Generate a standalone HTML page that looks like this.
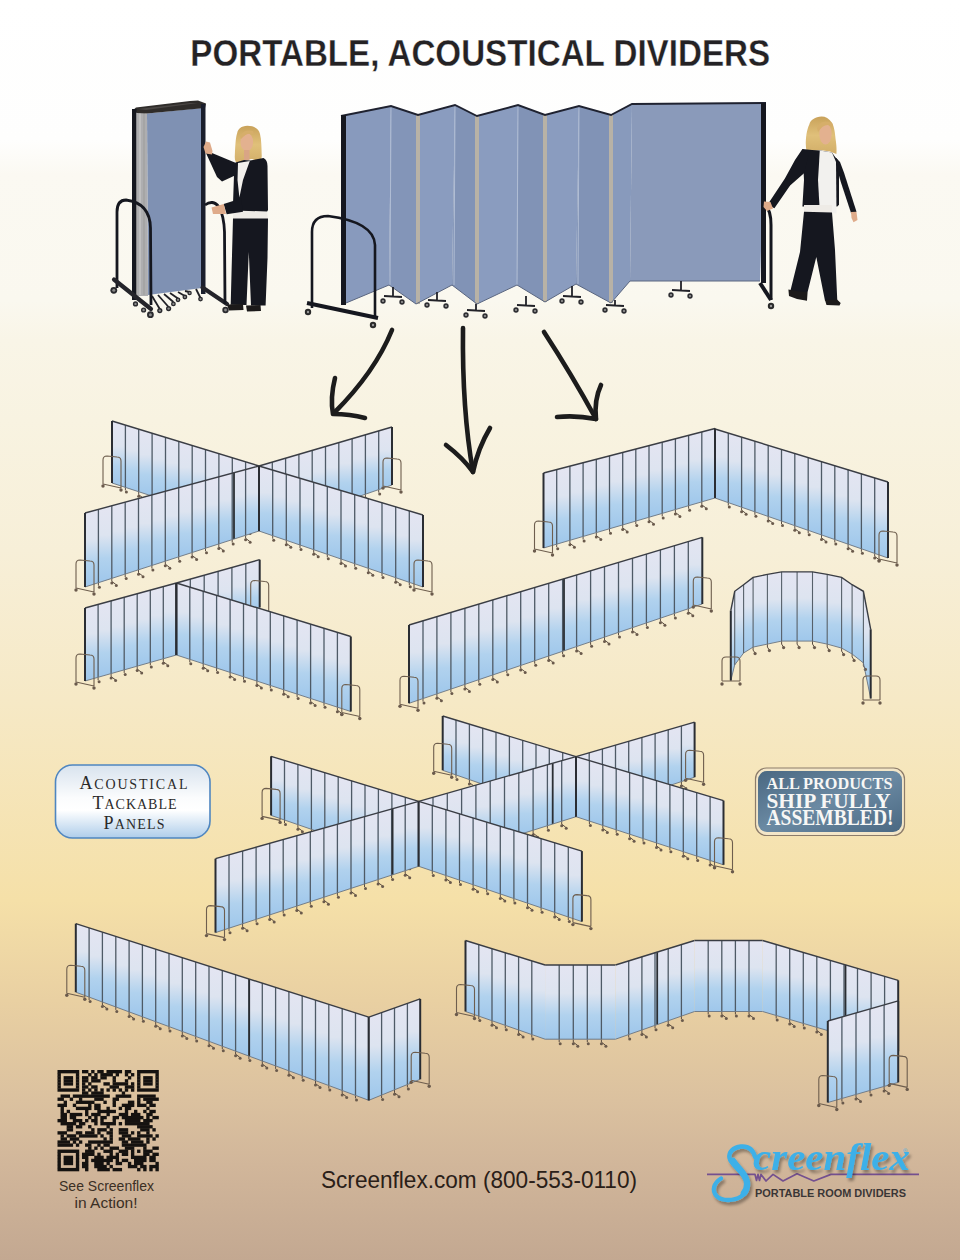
<!DOCTYPE html>
<html><head><meta charset="utf-8"><style>
html,body{margin:0;padding:0;}
html{width:960px;height:1260px;overflow:hidden;}
body{width:960px;height:1260px;overflow:hidden;position:relative;
background:linear-gradient(to bottom,#ffffff 0px,#fefefd 140px,#fbf9f2 175px,#faf8ef 300px,#f9f5e7 340px,#f8f3e1 420px,#f7efd8 550px,#f6e9c6 700px,#f5e0a8 900px,#e9d0a2 1000px,#dbc19f 1100px,#d1b69a 1165px,#c3a891 1260px);
font-family:"Liberation Sans",sans-serif;}
.t{position:absolute;white-space:nowrap;}
.c{font-size:18px;}
svg{position:absolute;left:0;top:0;}
</style></head><body>
<svg width="960" height="1260" viewBox="0 0 960 1260">
<defs>
<linearGradient id="pg" x1="0" y1="0" x2="0" y2="1">
  <stop offset="0" stop-color="#e4e5f2"/>
  <stop offset="0.38" stop-color="#dde4f0"/>
  <stop offset="0.68" stop-color="#b1d2ee"/>
  <stop offset="1" stop-color="#9fc7eb"/>
</linearGradient>
<linearGradient id="badge1" x1="0" y1="0" x2="0" y2="1">
  <stop offset="0" stop-color="#d8e3ee"/>
  <stop offset="0.45" stop-color="#fbfcfd"/>
  <stop offset="0.62" stop-color="#ffffff"/>
  <stop offset="1" stop-color="#aecdea"/>
</linearGradient>
<linearGradient id="badge2" x1="0" y1="0" x2="1" y2="1">
  <stop offset="0" stop-color="#4a6882"/>
  <stop offset="0.5" stop-color="#6b8aa3"/>
  <stop offset="1" stop-color="#4a6882"/>
</linearGradient>

<linearGradient id="blueL" x1="0" y1="0" x2="1" y2="0">
  <stop offset="0" stop-color="#8197c0"/><stop offset="1" stop-color="#7a90ba"/>
</linearGradient>
<linearGradient id="blueR" x1="0" y1="0" x2="1" y2="0">
  <stop offset="0" stop-color="#788db5"/><stop offset="1" stop-color="#8297bf"/>
</linearGradient>
<linearGradient id="hair" x1="0" y1="0" x2="0" y2="1">
  <stop offset="0" stop-color="#c9a25a"/><stop offset="0.5" stop-color="#e0c07a"/><stop offset="1" stop-color="#d2ae68"/>
</linearGradient>
</defs>
<polygon points="147,113.5 202,108 202,288 148,295" fill="#7f91b3"/>
<polygon points="137,112.5 147,113.5 148,296 137,296" fill="#aeaeb0"/>
<line x1="140" y1="113" x2="140" y2="295" stroke="#cfcfcd" stroke-width="1"/>
<line x1="144" y1="113" x2="144" y2="295" stroke="#9c9c9a" stroke-width="1"/>
<polygon points="132,111 136,107.5 190,101 198,100.5 206,103.5 205,108 147,113.5 137,113" fill="#2f2c2a"/>
<polygon points="138,109 190,103 198,103 146,110" fill="#4a4644"/>
<rect x="132" y="109" width="4.5" height="191" fill="#15171f"/>
<rect x="201" y="104" width="4.5" height="190" fill="#1a1e2c"/>
<path d="M117,288 L117,212 Q117,200 126,200 Q150,203 150.5,228 L151,305" stroke="#15171f" stroke-width="2.8" fill="none"/>
<path d="M114,279.5 L151,309" stroke="#24242a" stroke-width="4.2" fill="none" stroke-linecap="round"/>
<path d="M202.5,287.6 L227,304" stroke="#24242a" stroke-width="4.2" fill="none" stroke-linecap="round"/>
<path d="M205,205 Q213,199 219,207 Q224,216 224.5,232 L225,304" stroke="#15171f" stroke-width="2.8" fill="none"/>
<path d="M152,296 L159.8,309" stroke="#202026" stroke-width="1.8"/>
<path d="M158,295 L168.6,307" stroke="#202026" stroke-width="1.8"/>
<path d="M164,294 L173.4,302" stroke="#202026" stroke-width="1.8"/>
<path d="M170,293 L178,298.5" stroke="#202026" stroke-width="1.8"/>
<path d="M178,292 L184.9,296" stroke="#202026" stroke-width="1.8"/>
<path d="M185,291 L189.6,292" stroke="#202026" stroke-width="1.8"/>
<path d="M196,289 L200.5,298" stroke="#202026" stroke-width="1.8"/>
<circle cx="113.8" cy="290.3" r="3.4" fill="#2a2a2e"/><circle cx="113.8" cy="290.3" r="1.5" fill="#8a8a8a"/>
<circle cx="135.5" cy="303.9" r="2.6" fill="#2a2a2e"/><circle cx="135.5" cy="303.9" r="1.2" fill="#8a8a8a"/>
<circle cx="143.6" cy="310" r="2.6" fill="#2a2a2e"/><circle cx="143.6" cy="310" r="1.2" fill="#8a8a8a"/>
<circle cx="150.4" cy="314.7" r="3.4" fill="#2a2a2e"/><circle cx="150.4" cy="314.7" r="1.5" fill="#8a8a8a"/>
<circle cx="159.8" cy="310.6" r="2.6" fill="#2a2a2e"/><circle cx="159.8" cy="310.6" r="1.2" fill="#8a8a8a"/>
<circle cx="168.6" cy="308.6" r="2.6" fill="#2a2a2e"/><circle cx="168.6" cy="308.6" r="1.2" fill="#8a8a8a"/>
<circle cx="173.4" cy="303.9" r="2.4" fill="#2a2a2e"/><circle cx="173.4" cy="303.9" r="1.1" fill="#8a8a8a"/>
<circle cx="178" cy="299.8" r="2.4" fill="#2a2a2e"/><circle cx="178" cy="299.8" r="1.1" fill="#8a8a8a"/>
<circle cx="184.9" cy="297" r="2.4" fill="#2a2a2e"/><circle cx="184.9" cy="297" r="1.1" fill="#8a8a8a"/>
<circle cx="189.6" cy="293" r="2.2" fill="#2a2a2e"/><circle cx="189.6" cy="293" r="1.0" fill="#8a8a8a"/>
<circle cx="200.5" cy="299.1" r="2.4" fill="#2a2a2e"/><circle cx="200.5" cy="299.1" r="1.1" fill="#8a8a8a"/>
<circle cx="225.5" cy="310" r="3.2" fill="#2a2a2e"/><circle cx="225.5" cy="310" r="1.4" fill="#8a8a8a"/>
<path d="M247.4,125.8 C241,126 238,129 237.2,133 C235.5,138 235.3,146 234.8,156 C234.6,160 235.5,163 238,163.5 L244,160 L252,159 L258.5,161.5 C261,160 262,158 261.7,155 C261.5,148 261.5,140 260,134 C259,129 254,125.8 247.4,125.8 Z" fill="url(#hair)"/>
<ellipse cx="246.8" cy="142" rx="6.3" ry="9.3" fill="#e3b18f"/>
<path d="M240,136 Q244,129 253,131 L254,135 Q248,131 241,139 Z" fill="#d6ae6a"/>
<path d="M244,150 L249.5,150 L249.5,160 L244,160 Z" fill="#d9a585"/>
<path d="M235.5,162.5 L244,160 L250,160.5 L258,159 L263.5,158 Q267.5,160 267.5,166 L268,210 L266.4,212.8 L234.7,211 L233,204 L234,175 Z" fill="#15171f"/>
<path d="M238,163 L249.8,161 L243,180 L239.4,197.5 L237.5,180 Z" fill="#f2f0ec"/>
<path d="M233.5,210.5 L267,211.5 L268,219 L233,219.5 Z" fill="#eeebe6"/>
<path d="M205.5,152 L212,153 L236,163 L236,175 L222,181.5 L217,177 Z" fill="#15171f"/>
<path d="M203.5,147 L206,141.5 L210,142.5 L212.5,151 L212,154.5 L205.5,153.5 Z" fill="#dfab8a"/>
<path d="M223.6,203.9 L241,198.5 L243,211.8 L226.7,214.2 Z" fill="#15171f"/>
<path d="M211.5,207.5 L223.8,204 L226,214 L213,214 Z" fill="#dfab8a"/>
<path d="M233,218.5 L268,218.5 L267.5,258 L265.6,305.5 L251,305.5 L248.8,252 L246.5,305 L230.7,304.7 L231.5,273.7 Z" fill="#15171f"/>
<path d="M227,304.5 L243,304 L243.5,310 L229,310.5 Z M246,305.5 L260.5,305 L261,311 L247,311.5 Z" fill="#1c1a1a"/>
<polygon points="341,116 391,106 389,285 346,303" fill="#889abd"/>
<polygon points="391,106 418,115 416,304 389,285" fill="#8395b8"/>
<polygon points="418,115 455,105 452,285 416,304" fill="#8a9cbf"/>
<polygon points="455,105 477,116 477,304 452,285" fill="#8193b6"/>
<polygon points="477,116 518,105 517,285 477,304" fill="#8a9cbf"/>
<polygon points="518,105 545,115 545,302 517,285" fill="#8193b6"/>
<polygon points="545,115 579,106 576,284 545,302" fill="#8a9cbf"/>
<polygon points="579,106 611,115 611,303 576,284" fill="#8193b6"/>
<polygon points="611,115 632,104 630,281 611,303" fill="#889abc"/>
<polygon points="632,104 766,103 760,281 630,281" fill="#8a9aba"/>
<rect x="416" y="115" width="4" height="189" fill="#b8b2a6"/>
<rect x="475" y="116" width="4" height="188" fill="#b8b2a6"/>
<rect x="543" y="115" width="4" height="187" fill="#b8b2a6"/>
<rect x="609" y="115" width="4" height="188" fill="#b8b2a6"/>
<line x1="391" y1="106" x2="390" y2="285" stroke="#b0bdd4" stroke-width="1"/>
<line x1="455" y1="105" x2="454" y2="285" stroke="#b0bdd4" stroke-width="1"/>
<line x1="518" y1="105" x2="517" y2="285" stroke="#b0bdd4" stroke-width="1"/>
<line x1="579" y1="106" x2="578" y2="284" stroke="#b0bdd4" stroke-width="1"/>
<polyline points="341,116 391,106 418,115 455,105 477,116 518,105 545,115 579,106 611,115 632,104 766,103" fill="none" stroke="#1f2230" stroke-width="1.9"/>
<polyline points="346,303 389,285 416,304 452,285 477,304 517,285 545,302 576,284 611,303 630,281 760,281" fill="none" stroke="#5a6680" stroke-width="1"/>
<rect x="341" y="115" width="5" height="190" fill="#15171f"/>
<rect x="761" y="103" width="5" height="180" fill="#15171f"/>
<path d="M312,308 L312,232 Q312,216 328,216 Q374,222 375,245 L375,318" stroke="#15171f" stroke-width="2.6" fill="none"/>
<path d="M307,303 L378,318" stroke="#15171f" stroke-width="4"/>
<circle cx="308" cy="312" r="3.2" fill="#2a2a2a"/><circle cx="308" cy="312" r="1.2" fill="#999"/>
<circle cx="373" cy="325" r="3.2" fill="#2a2a2a"/><circle cx="373" cy="325" r="1.2" fill="#999"/>
<path d="M765,205 Q771,210 771,225 L771,300" stroke="#15171f" stroke-width="3" fill="none"/>
<path d="M760,283 L771,300" stroke="#15171f" stroke-width="4"/>
<circle cx="771" cy="306" r="3.2" fill="#2a2a2a"/><circle cx="771" cy="306" r="1.2" fill="#999"/>
<path d="M393,287 L393,296 M384,296 L402,297" stroke="#222228" stroke-width="1.8"/>
<circle cx="383" cy="301" r="2.7" fill="#2e2e32"/><circle cx="383" cy="301" r="1.1" fill="#999"/>
<circle cx="402" cy="302" r="2.7" fill="#2e2e32"/><circle cx="402" cy="302" r="1.1" fill="#999"/>
<path d="M437,292 L437,300 M428,300 L446,301" stroke="#222228" stroke-width="1.8"/>
<circle cx="427" cy="305" r="2.7" fill="#2e2e32"/><circle cx="427" cy="305" r="1.1" fill="#999"/>
<circle cx="446" cy="306" r="2.7" fill="#2e2e32"/><circle cx="446" cy="306" r="1.1" fill="#999"/>
<path d="M476,304 L476,310 M467,310 L485,311" stroke="#222228" stroke-width="1.8"/>
<circle cx="466" cy="315" r="2.7" fill="#2e2e32"/><circle cx="466" cy="315" r="1.1" fill="#999"/>
<circle cx="485" cy="316" r="2.7" fill="#2e2e32"/><circle cx="485" cy="316" r="1.1" fill="#999"/>
<path d="M526,296 L526,305 M517,305 L535,306" stroke="#222228" stroke-width="1.8"/>
<circle cx="516" cy="310" r="2.7" fill="#2e2e32"/><circle cx="516" cy="310" r="1.1" fill="#999"/>
<circle cx="535" cy="311" r="2.7" fill="#2e2e32"/><circle cx="535" cy="311" r="1.1" fill="#999"/>
<path d="M572,286 L572,296 M563,296 L581,297" stroke="#222228" stroke-width="1.8"/>
<circle cx="562" cy="301" r="2.7" fill="#2e2e32"/><circle cx="562" cy="301" r="1.1" fill="#999"/>
<circle cx="581" cy="302" r="2.7" fill="#2e2e32"/><circle cx="581" cy="302" r="1.1" fill="#999"/>
<path d="M615,300 L615,305 M606,305 L624,306" stroke="#222228" stroke-width="1.8"/>
<circle cx="605" cy="310" r="2.7" fill="#2e2e32"/><circle cx="605" cy="310" r="1.1" fill="#999"/>
<circle cx="624" cy="311" r="2.7" fill="#2e2e32"/><circle cx="624" cy="311" r="1.1" fill="#999"/>
<path d="M681,281 L681,290 M672,290 L690,291" stroke="#222228" stroke-width="1.8"/>
<circle cx="671" cy="295" r="2.7" fill="#2e2e32"/><circle cx="671" cy="295" r="1.1" fill="#999"/>
<circle cx="690" cy="296" r="2.7" fill="#2e2e32"/><circle cx="690" cy="296" r="1.1" fill="#999"/>
<path d="M821.6,116.6 C815,117 810.5,120 809.3,124.4 C806.5,130 805.8,138.4 805.8,144 C806,149 806.5,152 807.6,153.5 L812,151 L820,150 L830,151.5 L836.4,154.1 C837,148 836,142 835.5,138.4 C835,131 833.5,125 832,122.7 C829,118.5 825.5,116.6 821.6,116.6 Z" fill="url(#hair)"/>
<ellipse cx="825.5" cy="134" rx="6.2" ry="10.5" fill="#e3b18f"/>
<path d="M817,128 Q821,118.5 832,123 L833,127 Q825,121 818,132 Z" fill="#d6ae6a"/>
<path d="M802.4,149 L812,150 L820,150.6 L832,152.4 L835.5,157.6 Q839,160 839,165 L839,204.7 L837.3,206.5 L802.4,206.5 L804,180 Z" fill="#15171f"/>
<path d="M802.4,149 L809,154 L804,173.3 L790.1,185.5 L774.4,208.2 L767.5,204.7 L784.9,178.5 L795,160 Z" fill="#15171f"/>
<path d="M764,201.5 L770.5,202 L773,208.5 L767,211 L763.5,207 Z" fill="#dfab8a"/>
<path d="M835.5,157.6 L840,162 L844.2,173.3 L856.5,211.7 L851.2,213.4 L840.8,182 L837.3,169.8 Z" fill="#15171f"/>
<path d="M851,212 L856.5,211.7 L857.5,220 L853.5,222.2 L851.5,218 Z" fill="#dfab8a"/>
<path d="M819.8,150.6 L832,152.4 L836,162 L836.5,213.4 L819.8,212 L818,180 Z" fill="#f2f1ee"/>
<path d="M804,205 L832,205 L832,213.4 L804,212 Z" fill="#eeebe6"/>
<path d="M804,211.7 L832,212.5 L835,250 L837.3,300.7 L825,300.7 L816.3,257 L807.6,292 L790.1,292 L800,252 Z" fill="#15171f"/>
<path d="M788.4,289.5 L799,291.5 L807.6,292 L807,300.7 L797,299 L789,296 Z M825,300 L837,299.5 L840.7,303 L839.5,305.5 L826.5,305 Z" fill="#1c1a1a"/>
<path d="M125.4,487.4 l0,3" stroke="#5a4c40" stroke-width="1" fill="none"/>
<circle cx="126.4" cy="491.9" r="1.5" fill="#6a5a4c"/>
<path d="M138.7,491.7 l0,3 l4,3" stroke="#5a4c40" stroke-width="1" fill="none"/>
<circle cx="138.7" cy="496.2" r="1.5" fill="#6a5a4c"/>
<circle cx="143.2" cy="498.7" r="1.5" fill="#6a5a4c"/>
<path d="M152.1,496.1 l0,3" stroke="#5a4c40" stroke-width="1" fill="none"/>
<circle cx="153.1" cy="500.6" r="1.5" fill="#6a5a4c"/>
<path d="M165.5,500.5 l0,3 l4,3" stroke="#5a4c40" stroke-width="1" fill="none"/>
<circle cx="165.5" cy="505.0" r="1.5" fill="#6a5a4c"/>
<circle cx="170.0" cy="507.5" r="1.5" fill="#6a5a4c"/>
<path d="M178.8,504.8 l0,3" stroke="#5a4c40" stroke-width="1" fill="none"/>
<circle cx="179.8" cy="509.3" r="1.5" fill="#6a5a4c"/>
<path d="M192.2,509.2 l0,3 l4,3" stroke="#5a4c40" stroke-width="1" fill="none"/>
<circle cx="192.2" cy="513.7" r="1.5" fill="#6a5a4c"/>
<circle cx="196.7" cy="516.2" r="1.5" fill="#6a5a4c"/>
<path d="M205.5,513.5 l0,3" stroke="#5a4c40" stroke-width="1" fill="none"/>
<circle cx="206.5" cy="518.0" r="1.5" fill="#6a5a4c"/>
<path d="M218.9,517.9 l0,3 l4,3" stroke="#5a4c40" stroke-width="1" fill="none"/>
<circle cx="218.9" cy="522.4" r="1.5" fill="#6a5a4c"/>
<circle cx="223.4" cy="524.9" r="1.5" fill="#6a5a4c"/>
<path d="M232.3,522.3 l0,3" stroke="#5a4c40" stroke-width="1" fill="none"/>
<circle cx="233.3" cy="526.8" r="1.5" fill="#6a5a4c"/>
<path d="M245.6,526.6 l0,3 l4,3" stroke="#5a4c40" stroke-width="1" fill="none"/>
<circle cx="245.6" cy="531.1" r="1.5" fill="#6a5a4c"/>
<circle cx="250.1" cy="533.6" r="1.5" fill="#6a5a4c"/>
<polygon points="112.0,421.0 125.4,425.1 125.4,487.4 112.0,483.0" fill="url(#pg)"/>
<polygon points="125.4,425.1 138.7,429.2 138.7,491.7 125.4,487.4" fill="url(#pg)"/>
<polygon points="138.7,429.2 152.1,433.3 152.1,496.1 138.7,491.7" fill="url(#pg)"/>
<polygon points="152.1,433.3 165.5,437.4 165.5,500.5 152.1,496.1" fill="url(#pg)"/>
<polygon points="165.5,437.4 178.8,441.5 178.8,504.8 165.5,500.5" fill="url(#pg)"/>
<polygon points="178.8,441.5 192.2,445.5 192.2,509.2 178.8,504.8" fill="url(#pg)"/>
<polygon points="192.2,445.5 205.5,449.6 205.5,513.5 192.2,509.2" fill="url(#pg)"/>
<polygon points="205.5,449.6 218.9,453.7 218.9,517.9 205.5,513.5" fill="url(#pg)"/>
<polygon points="218.9,453.7 232.3,457.8 232.3,522.3 218.9,517.9" fill="url(#pg)"/>
<polygon points="232.3,457.8 245.6,461.9 245.6,526.6 232.3,522.3" fill="url(#pg)"/>
<polygon points="245.6,461.9 259.0,466.0 259.0,531.0 245.6,526.6" fill="url(#pg)"/>
<line x1="125.4" y1="425.1" x2="125.4" y2="487.4" stroke="#4e5a66" stroke-width="1.3"/>
<line x1="138.7" y1="429.2" x2="138.7" y2="491.7" stroke="#4e5a66" stroke-width="1.3"/>
<line x1="152.1" y1="433.3" x2="152.1" y2="496.1" stroke="#4e5a66" stroke-width="1.3"/>
<line x1="165.5" y1="437.4" x2="165.5" y2="500.5" stroke="#4e5a66" stroke-width="1.3"/>
<line x1="178.8" y1="441.5" x2="178.8" y2="504.8" stroke="#4e5a66" stroke-width="1.3"/>
<line x1="192.2" y1="445.5" x2="192.2" y2="509.2" stroke="#4e5a66" stroke-width="1.3"/>
<line x1="205.5" y1="449.6" x2="205.5" y2="513.5" stroke="#4e5a66" stroke-width="1.3"/>
<line x1="218.9" y1="453.7" x2="218.9" y2="517.9" stroke="#4e5a66" stroke-width="1.3"/>
<line x1="232.3" y1="457.8" x2="232.3" y2="522.3" stroke="#4e5a66" stroke-width="1.3"/>
<line x1="245.6" y1="461.9" x2="245.6" y2="526.6" stroke="#4e5a66" stroke-width="1.3"/>
<line x1="112.0" y1="421.0" x2="259.0" y2="466.0" stroke="#3a3d44" stroke-width="1.4"/>
<line x1="112.0" y1="483.0" x2="259.0" y2="531.0" stroke="#6a7480" stroke-width="0.9"/>
<line x1="112.0" y1="421.0" x2="112.0" y2="483.0" stroke="#2a2d33" stroke-width="2"/>
<line x1="259.0" y1="466.0" x2="259.0" y2="531.0" stroke="#2a2d33" stroke-width="2"/>
<path d="M103.0,484.0 L103.0,460.0 Q103.0,456.0 107.0,456.0 L117.0,457.0 Q121.0,457.0 121.0,461.0 L121.0,488.0 M103.0,484.0 L121.0,488.0" stroke="#6e5e4e" stroke-width="1.1" fill="none"/>
<circle cx="103.0" cy="486.0" r="1.7" fill="#6a5a4c"/>
<circle cx="121.0" cy="490.0" r="1.7" fill="#6a5a4c"/>
<path d="M272.3,526.4 l0,3" stroke="#5a4c40" stroke-width="1" fill="none"/>
<circle cx="273.3" cy="530.9" r="1.5" fill="#6a5a4c"/>
<path d="M285.6,521.8 l0,3 l4,3" stroke="#5a4c40" stroke-width="1" fill="none"/>
<circle cx="285.6" cy="526.3" r="1.5" fill="#6a5a4c"/>
<circle cx="290.1" cy="528.8" r="1.5" fill="#6a5a4c"/>
<path d="M298.9,517.2 l0,3" stroke="#5a4c40" stroke-width="1" fill="none"/>
<circle cx="299.9" cy="521.7" r="1.5" fill="#6a5a4c"/>
<path d="M312.2,512.6 l0,3 l4,3" stroke="#5a4c40" stroke-width="1" fill="none"/>
<circle cx="312.2" cy="517.1" r="1.5" fill="#6a5a4c"/>
<circle cx="316.7" cy="519.6" r="1.5" fill="#6a5a4c"/>
<path d="M325.5,508.0 l0,3" stroke="#5a4c40" stroke-width="1" fill="none"/>
<circle cx="326.5" cy="512.5" r="1.5" fill="#6a5a4c"/>
<path d="M338.8,503.4 l0,3 l4,3" stroke="#5a4c40" stroke-width="1" fill="none"/>
<circle cx="338.8" cy="507.9" r="1.5" fill="#6a5a4c"/>
<circle cx="343.3" cy="510.4" r="1.5" fill="#6a5a4c"/>
<path d="M352.1,498.8 l0,3" stroke="#5a4c40" stroke-width="1" fill="none"/>
<circle cx="353.1" cy="503.3" r="1.5" fill="#6a5a4c"/>
<path d="M365.4,494.2 l0,3 l4,3" stroke="#5a4c40" stroke-width="1" fill="none"/>
<circle cx="365.4" cy="498.7" r="1.5" fill="#6a5a4c"/>
<circle cx="369.9" cy="501.2" r="1.5" fill="#6a5a4c"/>
<path d="M378.7,489.6 l0,3" stroke="#5a4c40" stroke-width="1" fill="none"/>
<circle cx="379.7" cy="494.1" r="1.5" fill="#6a5a4c"/>
<polygon points="259.0,466.0 272.3,462.1 272.3,526.4 259.0,531.0" fill="url(#pg)"/>
<polygon points="272.3,462.1 285.6,458.2 285.6,521.8 272.3,526.4" fill="url(#pg)"/>
<polygon points="285.6,458.2 298.9,454.3 298.9,517.2 285.6,521.8" fill="url(#pg)"/>
<polygon points="298.9,454.3 312.2,450.4 312.2,512.6 298.9,517.2" fill="url(#pg)"/>
<polygon points="312.2,450.4 325.5,446.5 325.5,508.0 312.2,512.6" fill="url(#pg)"/>
<polygon points="325.5,446.5 338.8,442.6 338.8,503.4 325.5,508.0" fill="url(#pg)"/>
<polygon points="338.8,442.6 352.1,438.7 352.1,498.8 338.8,503.4" fill="url(#pg)"/>
<polygon points="352.1,438.7 365.4,434.8 365.4,494.2 352.1,498.8" fill="url(#pg)"/>
<polygon points="365.4,434.8 378.7,430.9 378.7,489.6 365.4,494.2" fill="url(#pg)"/>
<polygon points="378.7,430.9 392.0,427.0 392.0,485.0 378.7,489.6" fill="url(#pg)"/>
<line x1="272.3" y1="462.1" x2="272.3" y2="526.4" stroke="#4e5a66" stroke-width="1.3"/>
<line x1="285.6" y1="458.2" x2="285.6" y2="521.8" stroke="#4e5a66" stroke-width="1.3"/>
<line x1="298.9" y1="454.3" x2="298.9" y2="517.2" stroke="#4e5a66" stroke-width="1.3"/>
<line x1="312.2" y1="450.4" x2="312.2" y2="512.6" stroke="#4e5a66" stroke-width="1.3"/>
<line x1="325.5" y1="446.5" x2="325.5" y2="508.0" stroke="#4e5a66" stroke-width="1.3"/>
<line x1="338.8" y1="442.6" x2="338.8" y2="503.4" stroke="#4e5a66" stroke-width="1.3"/>
<line x1="352.1" y1="438.7" x2="352.1" y2="498.8" stroke="#4e5a66" stroke-width="1.3"/>
<line x1="365.4" y1="434.8" x2="365.4" y2="494.2" stroke="#4e5a66" stroke-width="1.3"/>
<line x1="378.7" y1="430.9" x2="378.7" y2="489.6" stroke="#4e5a66" stroke-width="1.3"/>
<line x1="259.0" y1="466.0" x2="392.0" y2="427.0" stroke="#3a3d44" stroke-width="1.4"/>
<line x1="259.0" y1="531.0" x2="392.0" y2="485.0" stroke="#6a7480" stroke-width="0.9"/>
<line x1="259.0" y1="466.0" x2="259.0" y2="531.0" stroke="#2a2d33" stroke-width="2"/>
<line x1="392.0" y1="427.0" x2="392.0" y2="485.0" stroke="#2a2d33" stroke-width="2"/>
<path d="M383.0,486.0 L383.0,462.0 Q383.0,458.0 387.0,458.0 L397.0,459.0 Q401.0,459.0 401.0,463.0 L401.0,490.0 M383.0,486.0 L401.0,490.0" stroke="#6e5e4e" stroke-width="1.1" fill="none"/>
<circle cx="383.0" cy="488.0" r="1.7" fill="#6a5a4c"/>
<circle cx="401.0" cy="492.0" r="1.7" fill="#6a5a4c"/>
<path d="M98.4,582.7 l0,3" stroke="#5a4c40" stroke-width="1" fill="none"/>
<circle cx="99.4" cy="587.2" r="1.5" fill="#6a5a4c"/>
<path d="M111.8,578.4 l0,3 l4,3" stroke="#5a4c40" stroke-width="1" fill="none"/>
<circle cx="111.8" cy="582.9" r="1.5" fill="#6a5a4c"/>
<circle cx="116.3" cy="585.4" r="1.5" fill="#6a5a4c"/>
<path d="M125.2,574.1 l0,3" stroke="#5a4c40" stroke-width="1" fill="none"/>
<circle cx="126.2" cy="578.6" r="1.5" fill="#6a5a4c"/>
<path d="M138.5,569.8 l0,3 l4,3" stroke="#5a4c40" stroke-width="1" fill="none"/>
<circle cx="138.5" cy="574.3" r="1.5" fill="#6a5a4c"/>
<circle cx="143.0" cy="576.8" r="1.5" fill="#6a5a4c"/>
<path d="M151.9,565.5 l0,3" stroke="#5a4c40" stroke-width="1" fill="none"/>
<circle cx="152.9" cy="570.0" r="1.5" fill="#6a5a4c"/>
<path d="M165.3,561.2 l0,3 l4,3" stroke="#5a4c40" stroke-width="1" fill="none"/>
<circle cx="165.3" cy="565.7" r="1.5" fill="#6a5a4c"/>
<circle cx="169.8" cy="568.2" r="1.5" fill="#6a5a4c"/>
<path d="M178.7,556.8 l0,3" stroke="#5a4c40" stroke-width="1" fill="none"/>
<circle cx="179.7" cy="561.3" r="1.5" fill="#6a5a4c"/>
<path d="M192.1,552.5 l0,3 l4,3" stroke="#5a4c40" stroke-width="1" fill="none"/>
<circle cx="192.1" cy="557.0" r="1.5" fill="#6a5a4c"/>
<circle cx="196.6" cy="559.5" r="1.5" fill="#6a5a4c"/>
<path d="M205.5,548.2 l0,3" stroke="#5a4c40" stroke-width="1" fill="none"/>
<circle cx="206.5" cy="552.7" r="1.5" fill="#6a5a4c"/>
<path d="M218.8,543.9 l0,3 l4,3" stroke="#5a4c40" stroke-width="1" fill="none"/>
<circle cx="218.8" cy="548.4" r="1.5" fill="#6a5a4c"/>
<circle cx="223.3" cy="550.9" r="1.5" fill="#6a5a4c"/>
<path d="M232.2,539.6 l0,3" stroke="#5a4c40" stroke-width="1" fill="none"/>
<circle cx="233.2" cy="544.1" r="1.5" fill="#6a5a4c"/>
<path d="M245.6,535.3 l0,3 l4,3" stroke="#5a4c40" stroke-width="1" fill="none"/>
<circle cx="245.6" cy="539.8" r="1.5" fill="#6a5a4c"/>
<circle cx="250.1" cy="542.3" r="1.5" fill="#6a5a4c"/>
<polygon points="85.0,513.0 98.4,509.4 98.4,582.7 85.0,587.0" fill="url(#pg)"/>
<polygon points="98.4,509.4 111.8,505.8 111.8,578.4 98.4,582.7" fill="url(#pg)"/>
<polygon points="111.8,505.8 125.2,502.2 125.2,574.1 111.8,578.4" fill="url(#pg)"/>
<polygon points="125.2,502.2 138.5,498.5 138.5,569.8 125.2,574.1" fill="url(#pg)"/>
<polygon points="138.5,498.5 151.9,494.9 151.9,565.5 138.5,569.8" fill="url(#pg)"/>
<polygon points="151.9,494.9 165.3,491.3 165.3,561.2 151.9,565.5" fill="url(#pg)"/>
<polygon points="165.3,491.3 178.7,487.7 178.7,556.8 165.3,561.2" fill="url(#pg)"/>
<polygon points="178.7,487.7 192.1,484.1 192.1,552.5 178.7,556.8" fill="url(#pg)"/>
<polygon points="192.1,484.1 205.5,480.5 205.5,548.2 192.1,552.5" fill="url(#pg)"/>
<polygon points="205.5,480.5 218.8,476.8 218.8,543.9 205.5,548.2" fill="url(#pg)"/>
<polygon points="218.8,476.8 232.2,473.2 232.2,539.6 218.8,543.9" fill="url(#pg)"/>
<polygon points="232.2,473.2 245.6,469.6 245.6,535.3 232.2,539.6" fill="url(#pg)"/>
<polygon points="245.6,469.6 259.0,466.0 259.0,531.0 245.6,535.3" fill="url(#pg)"/>
<line x1="98.4" y1="509.4" x2="98.4" y2="582.7" stroke="#4e5a66" stroke-width="1.3"/>
<line x1="111.8" y1="505.8" x2="111.8" y2="578.4" stroke="#4e5a66" stroke-width="1.3"/>
<line x1="125.2" y1="502.2" x2="125.2" y2="574.1" stroke="#4e5a66" stroke-width="1.3"/>
<line x1="138.5" y1="498.5" x2="138.5" y2="569.8" stroke="#4e5a66" stroke-width="1.3"/>
<line x1="151.9" y1="494.9" x2="151.9" y2="565.5" stroke="#4e5a66" stroke-width="1.3"/>
<line x1="165.3" y1="491.3" x2="165.3" y2="561.2" stroke="#4e5a66" stroke-width="1.3"/>
<line x1="178.7" y1="487.7" x2="178.7" y2="556.8" stroke="#4e5a66" stroke-width="1.3"/>
<line x1="192.1" y1="484.1" x2="192.1" y2="552.5" stroke="#4e5a66" stroke-width="1.3"/>
<line x1="205.5" y1="480.5" x2="205.5" y2="548.2" stroke="#4e5a66" stroke-width="1.3"/>
<line x1="218.8" y1="476.8" x2="218.8" y2="543.9" stroke="#4e5a66" stroke-width="1.3"/>
<line x1="232.2" y1="473.2" x2="232.2" y2="539.6" stroke="#4e5a66" stroke-width="1.3"/>
<line x1="245.6" y1="469.6" x2="245.6" y2="535.3" stroke="#4e5a66" stroke-width="1.3"/>
<line x1="234.0" y1="472.8" x2="234.0" y2="539.0" stroke="#2a2e33" stroke-width="1.8"/>
<line x1="85.0" y1="513.0" x2="259.0" y2="466.0" stroke="#3a3d44" stroke-width="1.4"/>
<line x1="85.0" y1="587.0" x2="259.0" y2="531.0" stroke="#6a7480" stroke-width="0.9"/>
<line x1="85.0" y1="513.0" x2="85.0" y2="587.0" stroke="#2a2d33" stroke-width="2"/>
<line x1="259.0" y1="466.0" x2="259.0" y2="531.0" stroke="#2a2d33" stroke-width="2"/>
<path d="M76.0,588.0 L76.0,564.0 Q76.0,560.0 80.0,560.0 L90.0,561.0 Q94.0,561.0 94.0,565.0 L94.0,592.0 M76.0,588.0 L94.0,592.0" stroke="#6e5e4e" stroke-width="1.1" fill="none"/>
<circle cx="76.0" cy="590.0" r="1.7" fill="#6a5a4c"/>
<circle cx="94.0" cy="594.0" r="1.7" fill="#6a5a4c"/>
<path d="M272.7,535.7 l0,3" stroke="#5a4c40" stroke-width="1" fill="none"/>
<circle cx="273.7" cy="540.2" r="1.5" fill="#6a5a4c"/>
<path d="M286.3,540.3 l0,3 l4,3" stroke="#5a4c40" stroke-width="1" fill="none"/>
<circle cx="286.3" cy="544.8" r="1.5" fill="#6a5a4c"/>
<circle cx="290.8" cy="547.3" r="1.5" fill="#6a5a4c"/>
<path d="M300.0,545.0 l0,3" stroke="#5a4c40" stroke-width="1" fill="none"/>
<circle cx="301.0" cy="549.5" r="1.5" fill="#6a5a4c"/>
<path d="M313.7,549.7 l0,3 l4,3" stroke="#5a4c40" stroke-width="1" fill="none"/>
<circle cx="313.7" cy="554.2" r="1.5" fill="#6a5a4c"/>
<circle cx="318.2" cy="556.7" r="1.5" fill="#6a5a4c"/>
<path d="M327.3,554.3 l0,3" stroke="#5a4c40" stroke-width="1" fill="none"/>
<circle cx="328.3" cy="558.8" r="1.5" fill="#6a5a4c"/>
<path d="M341.0,559.0 l0,3 l4,3" stroke="#5a4c40" stroke-width="1" fill="none"/>
<circle cx="341.0" cy="563.5" r="1.5" fill="#6a5a4c"/>
<circle cx="345.5" cy="566.0" r="1.5" fill="#6a5a4c"/>
<path d="M354.7,563.7 l0,3" stroke="#5a4c40" stroke-width="1" fill="none"/>
<circle cx="355.7" cy="568.2" r="1.5" fill="#6a5a4c"/>
<path d="M368.3,568.3 l0,3 l4,3" stroke="#5a4c40" stroke-width="1" fill="none"/>
<circle cx="368.3" cy="572.8" r="1.5" fill="#6a5a4c"/>
<circle cx="372.8" cy="575.3" r="1.5" fill="#6a5a4c"/>
<path d="M382.0,573.0 l0,3" stroke="#5a4c40" stroke-width="1" fill="none"/>
<circle cx="383.0" cy="577.5" r="1.5" fill="#6a5a4c"/>
<path d="M395.7,577.7 l0,3 l4,3" stroke="#5a4c40" stroke-width="1" fill="none"/>
<circle cx="395.7" cy="582.2" r="1.5" fill="#6a5a4c"/>
<circle cx="400.2" cy="584.7" r="1.5" fill="#6a5a4c"/>
<path d="M409.3,582.3 l0,3" stroke="#5a4c40" stroke-width="1" fill="none"/>
<circle cx="410.3" cy="586.8" r="1.5" fill="#6a5a4c"/>
<polygon points="259.0,466.0 272.7,470.1 272.7,535.7 259.0,531.0" fill="url(#pg)"/>
<polygon points="272.7,470.1 286.3,474.2 286.3,540.3 272.7,535.7" fill="url(#pg)"/>
<polygon points="286.3,474.2 300.0,478.2 300.0,545.0 286.3,540.3" fill="url(#pg)"/>
<polygon points="300.0,478.2 313.7,482.3 313.7,549.7 300.0,545.0" fill="url(#pg)"/>
<polygon points="313.7,482.3 327.3,486.4 327.3,554.3 313.7,549.7" fill="url(#pg)"/>
<polygon points="327.3,486.4 341.0,490.5 341.0,559.0 327.3,554.3" fill="url(#pg)"/>
<polygon points="341.0,490.5 354.7,494.6 354.7,563.7 341.0,559.0" fill="url(#pg)"/>
<polygon points="354.7,494.6 368.3,498.7 368.3,568.3 354.7,563.7" fill="url(#pg)"/>
<polygon points="368.3,498.7 382.0,502.8 382.0,573.0 368.3,568.3" fill="url(#pg)"/>
<polygon points="382.0,502.8 395.7,506.8 395.7,577.7 382.0,573.0" fill="url(#pg)"/>
<polygon points="395.7,506.8 409.3,510.9 409.3,582.3 395.7,577.7" fill="url(#pg)"/>
<polygon points="409.3,510.9 423.0,515.0 423.0,587.0 409.3,582.3" fill="url(#pg)"/>
<line x1="272.7" y1="470.1" x2="272.7" y2="535.7" stroke="#4e5a66" stroke-width="1.3"/>
<line x1="286.3" y1="474.2" x2="286.3" y2="540.3" stroke="#4e5a66" stroke-width="1.3"/>
<line x1="300.0" y1="478.2" x2="300.0" y2="545.0" stroke="#4e5a66" stroke-width="1.3"/>
<line x1="313.7" y1="482.3" x2="313.7" y2="549.7" stroke="#4e5a66" stroke-width="1.3"/>
<line x1="327.3" y1="486.4" x2="327.3" y2="554.3" stroke="#4e5a66" stroke-width="1.3"/>
<line x1="341.0" y1="490.5" x2="341.0" y2="559.0" stroke="#4e5a66" stroke-width="1.3"/>
<line x1="354.7" y1="494.6" x2="354.7" y2="563.7" stroke="#4e5a66" stroke-width="1.3"/>
<line x1="368.3" y1="498.7" x2="368.3" y2="568.3" stroke="#4e5a66" stroke-width="1.3"/>
<line x1="382.0" y1="502.8" x2="382.0" y2="573.0" stroke="#4e5a66" stroke-width="1.3"/>
<line x1="395.7" y1="506.8" x2="395.7" y2="577.7" stroke="#4e5a66" stroke-width="1.3"/>
<line x1="409.3" y1="510.9" x2="409.3" y2="582.3" stroke="#4e5a66" stroke-width="1.3"/>
<line x1="259.0" y1="466.0" x2="423.0" y2="515.0" stroke="#3a3d44" stroke-width="1.4"/>
<line x1="259.0" y1="531.0" x2="423.0" y2="587.0" stroke="#6a7480" stroke-width="0.9"/>
<line x1="259.0" y1="466.0" x2="259.0" y2="531.0" stroke="#2a2d33" stroke-width="2"/>
<line x1="423.0" y1="515.0" x2="423.0" y2="587.0" stroke="#2a2d33" stroke-width="2"/>
<path d="M414.0,588.0 L414.0,564.0 Q414.0,560.0 418.0,560.0 L428.0,561.0 Q432.0,561.0 432.0,565.0 L432.0,592.0 M414.0,588.0 L432.0,592.0" stroke="#6e5e4e" stroke-width="1.1" fill="none"/>
<circle cx="414.0" cy="590.0" r="1.7" fill="#6a5a4c"/>
<circle cx="432.0" cy="594.0" r="1.7" fill="#6a5a4c"/>
<path d="M556.7,544.2 l0,3" stroke="#5a4c40" stroke-width="1" fill="none"/>
<circle cx="557.7" cy="548.7" r="1.5" fill="#6a5a4c"/>
<path d="M569.9,540.3 l0,3 l4,3" stroke="#5a4c40" stroke-width="1" fill="none"/>
<circle cx="569.9" cy="544.8" r="1.5" fill="#6a5a4c"/>
<circle cx="574.4" cy="547.3" r="1.5" fill="#6a5a4c"/>
<path d="M583.1,536.5 l0,3" stroke="#5a4c40" stroke-width="1" fill="none"/>
<circle cx="584.1" cy="541.0" r="1.5" fill="#6a5a4c"/>
<path d="M596.3,532.6 l0,3 l4,3" stroke="#5a4c40" stroke-width="1" fill="none"/>
<circle cx="596.3" cy="537.1" r="1.5" fill="#6a5a4c"/>
<circle cx="600.8" cy="539.6" r="1.5" fill="#6a5a4c"/>
<path d="M609.5,528.8 l0,3" stroke="#5a4c40" stroke-width="1" fill="none"/>
<circle cx="610.5" cy="533.3" r="1.5" fill="#6a5a4c"/>
<path d="M622.7,524.9 l0,3 l4,3" stroke="#5a4c40" stroke-width="1" fill="none"/>
<circle cx="622.7" cy="529.4" r="1.5" fill="#6a5a4c"/>
<circle cx="627.2" cy="531.9" r="1.5" fill="#6a5a4c"/>
<path d="M635.8,521.1 l0,3" stroke="#5a4c40" stroke-width="1" fill="none"/>
<circle cx="636.8" cy="525.6" r="1.5" fill="#6a5a4c"/>
<path d="M649.0,517.2 l0,3 l4,3" stroke="#5a4c40" stroke-width="1" fill="none"/>
<circle cx="649.0" cy="521.7" r="1.5" fill="#6a5a4c"/>
<circle cx="653.5" cy="524.2" r="1.5" fill="#6a5a4c"/>
<path d="M662.2,513.4 l0,3" stroke="#5a4c40" stroke-width="1" fill="none"/>
<circle cx="663.2" cy="517.9" r="1.5" fill="#6a5a4c"/>
<path d="M675.4,509.5 l0,3 l4,3" stroke="#5a4c40" stroke-width="1" fill="none"/>
<circle cx="675.4" cy="514.0" r="1.5" fill="#6a5a4c"/>
<circle cx="679.9" cy="516.5" r="1.5" fill="#6a5a4c"/>
<path d="M688.6,505.7 l0,3" stroke="#5a4c40" stroke-width="1" fill="none"/>
<circle cx="689.6" cy="510.2" r="1.5" fill="#6a5a4c"/>
<path d="M701.8,501.8 l0,3 l4,3" stroke="#5a4c40" stroke-width="1" fill="none"/>
<circle cx="701.8" cy="506.3" r="1.5" fill="#6a5a4c"/>
<circle cx="706.3" cy="508.8" r="1.5" fill="#6a5a4c"/>
<polygon points="543.5,473.0 556.7,469.6 556.7,544.2 543.5,548.0" fill="url(#pg)"/>
<polygon points="556.7,469.6 569.9,466.2 569.9,540.3 556.7,544.2" fill="url(#pg)"/>
<polygon points="569.9,466.2 583.1,462.7 583.1,536.5 569.9,540.3" fill="url(#pg)"/>
<polygon points="583.1,462.7 596.3,459.3 596.3,532.6 583.1,536.5" fill="url(#pg)"/>
<polygon points="596.3,459.3 609.5,455.9 609.5,528.8 596.3,532.6" fill="url(#pg)"/>
<polygon points="609.5,455.9 622.7,452.5 622.7,524.9 609.5,528.8" fill="url(#pg)"/>
<polygon points="622.7,452.5 635.8,449.0 635.8,521.1 622.7,524.9" fill="url(#pg)"/>
<polygon points="635.8,449.0 649.0,445.6 649.0,517.2 635.8,521.1" fill="url(#pg)"/>
<polygon points="649.0,445.6 662.2,442.2 662.2,513.4 649.0,517.2" fill="url(#pg)"/>
<polygon points="662.2,442.2 675.4,438.8 675.4,509.5 662.2,513.4" fill="url(#pg)"/>
<polygon points="675.4,438.8 688.6,435.3 688.6,505.7 675.4,509.5" fill="url(#pg)"/>
<polygon points="688.6,435.3 701.8,431.9 701.8,501.8 688.6,505.7" fill="url(#pg)"/>
<polygon points="701.8,431.9 715.0,428.5 715.0,498.0 701.8,501.8" fill="url(#pg)"/>
<line x1="556.7" y1="469.6" x2="556.7" y2="544.2" stroke="#4e5a66" stroke-width="1.3"/>
<line x1="569.9" y1="466.2" x2="569.9" y2="540.3" stroke="#4e5a66" stroke-width="1.3"/>
<line x1="583.1" y1="462.7" x2="583.1" y2="536.5" stroke="#4e5a66" stroke-width="1.3"/>
<line x1="596.3" y1="459.3" x2="596.3" y2="532.6" stroke="#4e5a66" stroke-width="1.3"/>
<line x1="609.5" y1="455.9" x2="609.5" y2="528.8" stroke="#4e5a66" stroke-width="1.3"/>
<line x1="622.7" y1="452.5" x2="622.7" y2="524.9" stroke="#4e5a66" stroke-width="1.3"/>
<line x1="635.8" y1="449.0" x2="635.8" y2="521.1" stroke="#4e5a66" stroke-width="1.3"/>
<line x1="649.0" y1="445.6" x2="649.0" y2="517.2" stroke="#4e5a66" stroke-width="1.3"/>
<line x1="662.2" y1="442.2" x2="662.2" y2="513.4" stroke="#4e5a66" stroke-width="1.3"/>
<line x1="675.4" y1="438.8" x2="675.4" y2="509.5" stroke="#4e5a66" stroke-width="1.3"/>
<line x1="688.6" y1="435.3" x2="688.6" y2="505.7" stroke="#4e5a66" stroke-width="1.3"/>
<line x1="701.8" y1="431.9" x2="701.8" y2="501.8" stroke="#4e5a66" stroke-width="1.3"/>
<line x1="543.5" y1="473.0" x2="715.0" y2="428.5" stroke="#3a3d44" stroke-width="1.4"/>
<line x1="543.5" y1="548.0" x2="715.0" y2="498.0" stroke="#6a7480" stroke-width="0.9"/>
<line x1="543.5" y1="473.0" x2="543.5" y2="548.0" stroke="#2a2d33" stroke-width="2"/>
<line x1="715.0" y1="428.5" x2="715.0" y2="498.0" stroke="#2a2d33" stroke-width="2"/>
<path d="M534.5,549.0 L534.5,525.0 Q534.5,521.0 538.5,521.0 L548.5,522.0 Q552.5,522.0 552.5,526.0 L552.5,553.0 M534.5,549.0 L552.5,553.0" stroke="#6e5e4e" stroke-width="1.1" fill="none"/>
<circle cx="534.5" cy="551.0" r="1.7" fill="#6a5a4c"/>
<circle cx="552.5" cy="555.0" r="1.7" fill="#6a5a4c"/>
<path d="M728.3,502.6 l0,3" stroke="#5a4c40" stroke-width="1" fill="none"/>
<circle cx="729.3" cy="507.1" r="1.5" fill="#6a5a4c"/>
<path d="M741.6,507.2 l0,3 l4,3" stroke="#5a4c40" stroke-width="1" fill="none"/>
<circle cx="741.6" cy="511.7" r="1.5" fill="#6a5a4c"/>
<circle cx="746.1" cy="514.2" r="1.5" fill="#6a5a4c"/>
<path d="M754.9,511.8 l0,3" stroke="#5a4c40" stroke-width="1" fill="none"/>
<circle cx="755.9" cy="516.3" r="1.5" fill="#6a5a4c"/>
<path d="M768.2,516.5 l0,3 l4,3" stroke="#5a4c40" stroke-width="1" fill="none"/>
<circle cx="768.2" cy="521.0" r="1.5" fill="#6a5a4c"/>
<circle cx="772.7" cy="523.5" r="1.5" fill="#6a5a4c"/>
<path d="M781.5,521.1 l0,3" stroke="#5a4c40" stroke-width="1" fill="none"/>
<circle cx="782.5" cy="525.6" r="1.5" fill="#6a5a4c"/>
<path d="M794.8,525.7 l0,3 l4,3" stroke="#5a4c40" stroke-width="1" fill="none"/>
<circle cx="794.8" cy="530.2" r="1.5" fill="#6a5a4c"/>
<circle cx="799.3" cy="532.7" r="1.5" fill="#6a5a4c"/>
<path d="M808.2,530.3 l0,3" stroke="#5a4c40" stroke-width="1" fill="none"/>
<circle cx="809.2" cy="534.8" r="1.5" fill="#6a5a4c"/>
<path d="M821.5,534.9 l0,3 l4,3" stroke="#5a4c40" stroke-width="1" fill="none"/>
<circle cx="821.5" cy="539.4" r="1.5" fill="#6a5a4c"/>
<circle cx="826.0" cy="541.9" r="1.5" fill="#6a5a4c"/>
<path d="M834.8,539.5 l0,3" stroke="#5a4c40" stroke-width="1" fill="none"/>
<circle cx="835.8" cy="544.0" r="1.5" fill="#6a5a4c"/>
<path d="M848.1,544.2 l0,3 l4,3" stroke="#5a4c40" stroke-width="1" fill="none"/>
<circle cx="848.1" cy="548.7" r="1.5" fill="#6a5a4c"/>
<circle cx="852.6" cy="551.2" r="1.5" fill="#6a5a4c"/>
<path d="M861.4,548.8 l0,3" stroke="#5a4c40" stroke-width="1" fill="none"/>
<circle cx="862.4" cy="553.3" r="1.5" fill="#6a5a4c"/>
<path d="M874.7,553.4 l0,3 l4,3" stroke="#5a4c40" stroke-width="1" fill="none"/>
<circle cx="874.7" cy="557.9" r="1.5" fill="#6a5a4c"/>
<circle cx="879.2" cy="560.4" r="1.5" fill="#6a5a4c"/>
<polygon points="715.0,429.0 728.3,433.1 728.3,502.6 715.0,498.0" fill="url(#pg)"/>
<polygon points="728.3,433.1 741.6,437.2 741.6,507.2 728.3,502.6" fill="url(#pg)"/>
<polygon points="741.6,437.2 754.9,441.2 754.9,511.8 741.6,507.2" fill="url(#pg)"/>
<polygon points="754.9,441.2 768.2,445.3 768.2,516.5 754.9,511.8" fill="url(#pg)"/>
<polygon points="768.2,445.3 781.5,449.4 781.5,521.1 768.2,516.5" fill="url(#pg)"/>
<polygon points="781.5,449.4 794.8,453.5 794.8,525.7 781.5,521.1" fill="url(#pg)"/>
<polygon points="794.8,453.5 808.2,457.5 808.2,530.3 794.8,525.7" fill="url(#pg)"/>
<polygon points="808.2,457.5 821.5,461.6 821.5,534.9 808.2,530.3" fill="url(#pg)"/>
<polygon points="821.5,461.6 834.8,465.7 834.8,539.5 821.5,534.9" fill="url(#pg)"/>
<polygon points="834.8,465.7 848.1,469.8 848.1,544.2 834.8,539.5" fill="url(#pg)"/>
<polygon points="848.1,469.8 861.4,473.8 861.4,548.8 848.1,544.2" fill="url(#pg)"/>
<polygon points="861.4,473.8 874.7,477.9 874.7,553.4 861.4,548.8" fill="url(#pg)"/>
<polygon points="874.7,477.9 888.0,482.0 888.0,558.0 874.7,553.4" fill="url(#pg)"/>
<line x1="728.3" y1="433.1" x2="728.3" y2="502.6" stroke="#4e5a66" stroke-width="1.3"/>
<line x1="741.6" y1="437.2" x2="741.6" y2="507.2" stroke="#4e5a66" stroke-width="1.3"/>
<line x1="754.9" y1="441.2" x2="754.9" y2="511.8" stroke="#4e5a66" stroke-width="1.3"/>
<line x1="768.2" y1="445.3" x2="768.2" y2="516.5" stroke="#4e5a66" stroke-width="1.3"/>
<line x1="781.5" y1="449.4" x2="781.5" y2="521.1" stroke="#4e5a66" stroke-width="1.3"/>
<line x1="794.8" y1="453.5" x2="794.8" y2="525.7" stroke="#4e5a66" stroke-width="1.3"/>
<line x1="808.2" y1="457.5" x2="808.2" y2="530.3" stroke="#4e5a66" stroke-width="1.3"/>
<line x1="821.5" y1="461.6" x2="821.5" y2="534.9" stroke="#4e5a66" stroke-width="1.3"/>
<line x1="834.8" y1="465.7" x2="834.8" y2="539.5" stroke="#4e5a66" stroke-width="1.3"/>
<line x1="848.1" y1="469.8" x2="848.1" y2="544.2" stroke="#4e5a66" stroke-width="1.3"/>
<line x1="861.4" y1="473.8" x2="861.4" y2="548.8" stroke="#4e5a66" stroke-width="1.3"/>
<line x1="874.7" y1="477.9" x2="874.7" y2="553.4" stroke="#4e5a66" stroke-width="1.3"/>
<line x1="715.0" y1="429.0" x2="715.0" y2="498.0" stroke="#2a2e33" stroke-width="1.8"/>
<line x1="715.0" y1="429.0" x2="888.0" y2="482.0" stroke="#3a3d44" stroke-width="1.4"/>
<line x1="715.0" y1="498.0" x2="888.0" y2="558.0" stroke="#6a7480" stroke-width="0.9"/>
<line x1="715.0" y1="429.0" x2="715.0" y2="498.0" stroke="#2a2d33" stroke-width="2"/>
<line x1="888.0" y1="482.0" x2="888.0" y2="558.0" stroke="#2a2d33" stroke-width="2"/>
<path d="M879.0,559.0 L879.0,535.0 Q879.0,531.0 883.0,531.0 L893.0,532.0 Q897.0,532.0 897.0,536.0 L897.0,563.0 M879.0,559.0 L897.0,563.0" stroke="#6e5e4e" stroke-width="1.1" fill="none"/>
<circle cx="879.0" cy="561.0" r="1.7" fill="#6a5a4c"/>
<circle cx="897.0" cy="565.0" r="1.7" fill="#6a5a4c"/>
<path d="M190.3,647.1 l0,3" stroke="#5a4c40" stroke-width="1" fill="none"/>
<circle cx="191.3" cy="651.6" r="1.5" fill="#6a5a4c"/>
<path d="M204.2,639.2 l0,3 l4,3" stroke="#5a4c40" stroke-width="1" fill="none"/>
<circle cx="204.2" cy="643.7" r="1.5" fill="#6a5a4c"/>
<circle cx="208.7" cy="646.2" r="1.5" fill="#6a5a4c"/>
<path d="M218.1,631.2 l0,3" stroke="#5a4c40" stroke-width="1" fill="none"/>
<circle cx="219.1" cy="635.8" r="1.5" fill="#6a5a4c"/>
<path d="M231.9,623.3 l0,3 l4,3" stroke="#5a4c40" stroke-width="1" fill="none"/>
<circle cx="231.9" cy="627.8" r="1.5" fill="#6a5a4c"/>
<circle cx="236.4" cy="630.3" r="1.5" fill="#6a5a4c"/>
<path d="M245.8,615.4 l0,3" stroke="#5a4c40" stroke-width="1" fill="none"/>
<circle cx="246.8" cy="619.9" r="1.5" fill="#6a5a4c"/>
<polygon points="176.4,583.0 190.3,579.1 190.3,647.1 176.4,655.0" fill="url(#pg)"/>
<polygon points="190.3,579.1 204.2,575.2 204.2,639.2 190.3,647.1" fill="url(#pg)"/>
<polygon points="204.2,575.2 218.1,571.4 218.1,631.2 204.2,639.2" fill="url(#pg)"/>
<polygon points="218.1,571.4 231.9,567.5 231.9,623.3 218.1,631.2" fill="url(#pg)"/>
<polygon points="231.9,567.5 245.8,563.6 245.8,615.4 231.9,623.3" fill="url(#pg)"/>
<polygon points="245.8,563.6 259.7,559.7 259.7,607.5 245.8,615.4" fill="url(#pg)"/>
<line x1="190.3" y1="579.1" x2="190.3" y2="647.1" stroke="#4e5a66" stroke-width="1.3"/>
<line x1="204.2" y1="575.2" x2="204.2" y2="639.2" stroke="#4e5a66" stroke-width="1.3"/>
<line x1="218.1" y1="571.4" x2="218.1" y2="631.2" stroke="#4e5a66" stroke-width="1.3"/>
<line x1="231.9" y1="567.5" x2="231.9" y2="623.3" stroke="#4e5a66" stroke-width="1.3"/>
<line x1="245.8" y1="563.6" x2="245.8" y2="615.4" stroke="#4e5a66" stroke-width="1.3"/>
<line x1="176.4" y1="583.0" x2="259.7" y2="559.7" stroke="#3a3d44" stroke-width="1.4"/>
<line x1="176.4" y1="655.0" x2="259.7" y2="607.5" stroke="#6a7480" stroke-width="0.9"/>
<line x1="176.4" y1="583.0" x2="176.4" y2="655.0" stroke="#2a2d33" stroke-width="2"/>
<line x1="259.7" y1="559.7" x2="259.7" y2="607.5" stroke="#2a2d33" stroke-width="2"/>
<path d="M250.7,608.5 L250.7,584.5 Q250.7,580.5 254.7,580.5 L264.7,581.5 Q268.7,581.5 268.7,585.5 L268.7,612.5 M250.7,608.5 L268.7,612.5" stroke="#6e5e4e" stroke-width="1.1" fill="none"/>
<circle cx="250.7" cy="610.5" r="1.7" fill="#6a5a4c"/>
<circle cx="268.7" cy="614.5" r="1.7" fill="#6a5a4c"/>
<path d="M98.1,677.3 l0,3" stroke="#5a4c40" stroke-width="1" fill="none"/>
<circle cx="99.1" cy="681.8" r="1.5" fill="#6a5a4c"/>
<path d="M111.1,673.6 l0,3 l4,3" stroke="#5a4c40" stroke-width="1" fill="none"/>
<circle cx="111.1" cy="678.1" r="1.5" fill="#6a5a4c"/>
<circle cx="115.6" cy="680.6" r="1.5" fill="#6a5a4c"/>
<path d="M124.2,669.9 l0,3" stroke="#5a4c40" stroke-width="1" fill="none"/>
<circle cx="125.2" cy="674.4" r="1.5" fill="#6a5a4c"/>
<path d="M137.2,666.1 l0,3 l4,3" stroke="#5a4c40" stroke-width="1" fill="none"/>
<circle cx="137.2" cy="670.6" r="1.5" fill="#6a5a4c"/>
<circle cx="141.7" cy="673.1" r="1.5" fill="#6a5a4c"/>
<path d="M150.3,662.4 l0,3" stroke="#5a4c40" stroke-width="1" fill="none"/>
<circle cx="151.3" cy="666.9" r="1.5" fill="#6a5a4c"/>
<path d="M163.3,658.7 l0,3 l4,3" stroke="#5a4c40" stroke-width="1" fill="none"/>
<circle cx="163.3" cy="663.2" r="1.5" fill="#6a5a4c"/>
<circle cx="167.8" cy="665.7" r="1.5" fill="#6a5a4c"/>
<polygon points="85.0,608.0 98.1,604.4 98.1,677.3 85.0,681.0" fill="url(#pg)"/>
<polygon points="98.1,604.4 111.1,600.9 111.1,673.6 98.1,677.3" fill="url(#pg)"/>
<polygon points="111.1,600.9 124.2,597.3 124.2,669.9 111.1,673.6" fill="url(#pg)"/>
<polygon points="124.2,597.3 137.2,593.7 137.2,666.1 124.2,669.9" fill="url(#pg)"/>
<polygon points="137.2,593.7 150.3,590.1 150.3,662.4 137.2,666.1" fill="url(#pg)"/>
<polygon points="150.3,590.1 163.3,586.6 163.3,658.7 150.3,662.4" fill="url(#pg)"/>
<polygon points="163.3,586.6 176.4,583.0 176.4,655.0 163.3,658.7" fill="url(#pg)"/>
<line x1="98.1" y1="604.4" x2="98.1" y2="677.3" stroke="#4e5a66" stroke-width="1.3"/>
<line x1="111.1" y1="600.9" x2="111.1" y2="673.6" stroke="#4e5a66" stroke-width="1.3"/>
<line x1="124.2" y1="597.3" x2="124.2" y2="669.9" stroke="#4e5a66" stroke-width="1.3"/>
<line x1="137.2" y1="593.7" x2="137.2" y2="666.1" stroke="#4e5a66" stroke-width="1.3"/>
<line x1="150.3" y1="590.1" x2="150.3" y2="662.4" stroke="#4e5a66" stroke-width="1.3"/>
<line x1="163.3" y1="586.6" x2="163.3" y2="658.7" stroke="#4e5a66" stroke-width="1.3"/>
<line x1="85.0" y1="608.0" x2="176.4" y2="583.0" stroke="#3a3d44" stroke-width="1.4"/>
<line x1="85.0" y1="681.0" x2="176.4" y2="655.0" stroke="#6a7480" stroke-width="0.9"/>
<line x1="85.0" y1="608.0" x2="85.0" y2="681.0" stroke="#2a2d33" stroke-width="2"/>
<line x1="176.4" y1="583.0" x2="176.4" y2="655.0" stroke="#2a2d33" stroke-width="2"/>
<path d="M76.0,682.0 L76.0,658.0 Q76.0,654.0 80.0,654.0 L90.0,655.0 Q94.0,655.0 94.0,659.0 L94.0,686.0 M76.0,682.0 L94.0,686.0" stroke="#6e5e4e" stroke-width="1.1" fill="none"/>
<circle cx="76.0" cy="684.0" r="1.7" fill="#6a5a4c"/>
<circle cx="94.0" cy="688.0" r="1.7" fill="#6a5a4c"/>
<path d="M189.8,659.3 l0,3" stroke="#5a4c40" stroke-width="1" fill="none"/>
<circle cx="190.8" cy="663.8" r="1.5" fill="#6a5a4c"/>
<path d="M203.2,663.7 l0,3 l4,3" stroke="#5a4c40" stroke-width="1" fill="none"/>
<circle cx="203.2" cy="668.2" r="1.5" fill="#6a5a4c"/>
<circle cx="207.7" cy="670.7" r="1.5" fill="#6a5a4c"/>
<path d="M216.6,668.0 l0,3" stroke="#5a4c40" stroke-width="1" fill="none"/>
<circle cx="217.6" cy="672.5" r="1.5" fill="#6a5a4c"/>
<path d="M230.1,672.4 l0,3 l4,3" stroke="#5a4c40" stroke-width="1" fill="none"/>
<circle cx="230.1" cy="676.9" r="1.5" fill="#6a5a4c"/>
<circle cx="234.6" cy="679.4" r="1.5" fill="#6a5a4c"/>
<path d="M243.5,676.7 l0,3" stroke="#5a4c40" stroke-width="1" fill="none"/>
<circle cx="244.5" cy="681.2" r="1.5" fill="#6a5a4c"/>
<path d="M256.9,681.1 l0,3 l4,3" stroke="#5a4c40" stroke-width="1" fill="none"/>
<circle cx="256.9" cy="685.6" r="1.5" fill="#6a5a4c"/>
<circle cx="261.4" cy="688.1" r="1.5" fill="#6a5a4c"/>
<path d="M270.3,685.4 l0,3" stroke="#5a4c40" stroke-width="1" fill="none"/>
<circle cx="271.3" cy="689.9" r="1.5" fill="#6a5a4c"/>
<path d="M283.7,689.8 l0,3 l4,3" stroke="#5a4c40" stroke-width="1" fill="none"/>
<circle cx="283.7" cy="694.3" r="1.5" fill="#6a5a4c"/>
<circle cx="288.2" cy="696.8" r="1.5" fill="#6a5a4c"/>
<path d="M297.1,694.1 l0,3" stroke="#5a4c40" stroke-width="1" fill="none"/>
<circle cx="298.1" cy="698.6" r="1.5" fill="#6a5a4c"/>
<path d="M310.6,698.5 l0,3 l4,3" stroke="#5a4c40" stroke-width="1" fill="none"/>
<circle cx="310.6" cy="703.0" r="1.5" fill="#6a5a4c"/>
<circle cx="315.1" cy="705.5" r="1.5" fill="#6a5a4c"/>
<path d="M324.0,702.8 l0,3" stroke="#5a4c40" stroke-width="1" fill="none"/>
<circle cx="325.0" cy="707.3" r="1.5" fill="#6a5a4c"/>
<path d="M337.4,707.2 l0,3 l4,3" stroke="#5a4c40" stroke-width="1" fill="none"/>
<circle cx="337.4" cy="711.7" r="1.5" fill="#6a5a4c"/>
<circle cx="341.9" cy="714.2" r="1.5" fill="#6a5a4c"/>
<polygon points="176.4,583.0 189.8,587.1 189.8,659.3 176.4,655.0" fill="url(#pg)"/>
<polygon points="189.8,587.1 203.2,591.2 203.2,663.7 189.8,659.3" fill="url(#pg)"/>
<polygon points="203.2,591.2 216.6,595.3 216.6,668.0 203.2,663.7" fill="url(#pg)"/>
<polygon points="216.6,595.3 230.1,599.5 230.1,672.4 216.6,668.0" fill="url(#pg)"/>
<polygon points="230.1,599.5 243.5,603.6 243.5,676.7 230.1,672.4" fill="url(#pg)"/>
<polygon points="243.5,603.6 256.9,607.7 256.9,681.1 243.5,676.7" fill="url(#pg)"/>
<polygon points="256.9,607.7 270.3,611.8 270.3,685.4 256.9,681.1" fill="url(#pg)"/>
<polygon points="270.3,611.8 283.7,615.9 283.7,689.8 270.3,685.4" fill="url(#pg)"/>
<polygon points="283.7,615.9 297.1,620.0 297.1,694.1 283.7,689.8" fill="url(#pg)"/>
<polygon points="297.1,620.0 310.6,624.2 310.6,698.5 297.1,694.1" fill="url(#pg)"/>
<polygon points="310.6,624.2 324.0,628.3 324.0,702.8 310.6,698.5" fill="url(#pg)"/>
<polygon points="324.0,628.3 337.4,632.4 337.4,707.2 324.0,702.8" fill="url(#pg)"/>
<polygon points="337.4,632.4 350.8,636.5 350.8,711.5 337.4,707.2" fill="url(#pg)"/>
<line x1="189.8" y1="587.1" x2="189.8" y2="659.3" stroke="#4e5a66" stroke-width="1.3"/>
<line x1="203.2" y1="591.2" x2="203.2" y2="663.7" stroke="#4e5a66" stroke-width="1.3"/>
<line x1="216.6" y1="595.3" x2="216.6" y2="668.0" stroke="#4e5a66" stroke-width="1.3"/>
<line x1="230.1" y1="599.5" x2="230.1" y2="672.4" stroke="#4e5a66" stroke-width="1.3"/>
<line x1="243.5" y1="603.6" x2="243.5" y2="676.7" stroke="#4e5a66" stroke-width="1.3"/>
<line x1="256.9" y1="607.7" x2="256.9" y2="681.1" stroke="#4e5a66" stroke-width="1.3"/>
<line x1="270.3" y1="611.8" x2="270.3" y2="685.4" stroke="#4e5a66" stroke-width="1.3"/>
<line x1="283.7" y1="615.9" x2="283.7" y2="689.8" stroke="#4e5a66" stroke-width="1.3"/>
<line x1="297.1" y1="620.0" x2="297.1" y2="694.1" stroke="#4e5a66" stroke-width="1.3"/>
<line x1="310.6" y1="624.2" x2="310.6" y2="698.5" stroke="#4e5a66" stroke-width="1.3"/>
<line x1="324.0" y1="628.3" x2="324.0" y2="702.8" stroke="#4e5a66" stroke-width="1.3"/>
<line x1="337.4" y1="632.4" x2="337.4" y2="707.2" stroke="#4e5a66" stroke-width="1.3"/>
<line x1="176.4" y1="583.0" x2="176.4" y2="655.0" stroke="#2a2e33" stroke-width="1.8"/>
<line x1="176.4" y1="583.0" x2="350.8" y2="636.5" stroke="#3a3d44" stroke-width="1.4"/>
<line x1="176.4" y1="655.0" x2="350.8" y2="711.5" stroke="#6a7480" stroke-width="0.9"/>
<line x1="176.4" y1="583.0" x2="176.4" y2="655.0" stroke="#2a2d33" stroke-width="2"/>
<line x1="350.8" y1="636.5" x2="350.8" y2="711.5" stroke="#2a2d33" stroke-width="2"/>
<path d="M341.8,712.5 L341.8,688.5 Q341.8,684.5 345.8,684.5 L355.8,685.5 Q359.8,685.5 359.8,689.5 L359.8,716.5 M341.8,712.5 L359.8,716.5" stroke="#6e5e4e" stroke-width="1.1" fill="none"/>
<circle cx="341.8" cy="714.5" r="1.7" fill="#6a5a4c"/>
<circle cx="359.8" cy="718.5" r="1.7" fill="#6a5a4c"/>
<path d="M423.0,698.6 l0,3" stroke="#5a4c40" stroke-width="1" fill="none"/>
<circle cx="424.0" cy="703.1" r="1.5" fill="#6a5a4c"/>
<path d="M436.9,693.8 l0,3 l4,3" stroke="#5a4c40" stroke-width="1" fill="none"/>
<circle cx="436.9" cy="698.3" r="1.5" fill="#6a5a4c"/>
<circle cx="441.4" cy="700.8" r="1.5" fill="#6a5a4c"/>
<path d="M450.9,689.1 l0,3" stroke="#5a4c40" stroke-width="1" fill="none"/>
<circle cx="451.9" cy="693.6" r="1.5" fill="#6a5a4c"/>
<path d="M464.9,684.4 l0,3 l4,3" stroke="#5a4c40" stroke-width="1" fill="none"/>
<circle cx="464.9" cy="688.9" r="1.5" fill="#6a5a4c"/>
<circle cx="469.4" cy="691.4" r="1.5" fill="#6a5a4c"/>
<path d="M478.8,679.7 l0,3" stroke="#5a4c40" stroke-width="1" fill="none"/>
<circle cx="479.8" cy="684.2" r="1.5" fill="#6a5a4c"/>
<path d="M492.8,674.9 l0,3 l4,3" stroke="#5a4c40" stroke-width="1" fill="none"/>
<circle cx="492.8" cy="679.4" r="1.5" fill="#6a5a4c"/>
<circle cx="497.3" cy="681.9" r="1.5" fill="#6a5a4c"/>
<path d="M506.8,670.2 l0,3" stroke="#5a4c40" stroke-width="1" fill="none"/>
<circle cx="507.8" cy="674.7" r="1.5" fill="#6a5a4c"/>
<path d="M520.7,665.5 l0,3 l4,3" stroke="#5a4c40" stroke-width="1" fill="none"/>
<circle cx="520.7" cy="670.0" r="1.5" fill="#6a5a4c"/>
<circle cx="525.2" cy="672.5" r="1.5" fill="#6a5a4c"/>
<path d="M534.7,660.7 l0,3" stroke="#5a4c40" stroke-width="1" fill="none"/>
<circle cx="535.7" cy="665.2" r="1.5" fill="#6a5a4c"/>
<path d="M548.7,656.0 l0,3 l4,3" stroke="#5a4c40" stroke-width="1" fill="none"/>
<circle cx="548.7" cy="660.5" r="1.5" fill="#6a5a4c"/>
<circle cx="553.2" cy="663.0" r="1.5" fill="#6a5a4c"/>
<path d="M562.6,651.3 l0,3" stroke="#5a4c40" stroke-width="1" fill="none"/>
<circle cx="563.6" cy="655.8" r="1.5" fill="#6a5a4c"/>
<path d="M576.6,646.6 l0,3 l4,3" stroke="#5a4c40" stroke-width="1" fill="none"/>
<circle cx="576.6" cy="651.1" r="1.5" fill="#6a5a4c"/>
<circle cx="581.1" cy="653.6" r="1.5" fill="#6a5a4c"/>
<path d="M590.6,641.8 l0,3" stroke="#5a4c40" stroke-width="1" fill="none"/>
<circle cx="591.6" cy="646.3" r="1.5" fill="#6a5a4c"/>
<path d="M604.5,637.1 l0,3 l4,3" stroke="#5a4c40" stroke-width="1" fill="none"/>
<circle cx="604.5" cy="641.6" r="1.5" fill="#6a5a4c"/>
<circle cx="609.0" cy="644.1" r="1.5" fill="#6a5a4c"/>
<path d="M618.5,632.4 l0,3" stroke="#5a4c40" stroke-width="1" fill="none"/>
<circle cx="619.5" cy="636.9" r="1.5" fill="#6a5a4c"/>
<path d="M632.5,627.6 l0,3 l4,3" stroke="#5a4c40" stroke-width="1" fill="none"/>
<circle cx="632.5" cy="632.1" r="1.5" fill="#6a5a4c"/>
<circle cx="637.0" cy="634.6" r="1.5" fill="#6a5a4c"/>
<path d="M646.4,622.9 l0,3" stroke="#5a4c40" stroke-width="1" fill="none"/>
<circle cx="647.4" cy="627.4" r="1.5" fill="#6a5a4c"/>
<path d="M660.4,618.2 l0,3 l4,3" stroke="#5a4c40" stroke-width="1" fill="none"/>
<circle cx="660.4" cy="622.7" r="1.5" fill="#6a5a4c"/>
<circle cx="664.9" cy="625.2" r="1.5" fill="#6a5a4c"/>
<path d="M674.4,613.5 l0,3" stroke="#5a4c40" stroke-width="1" fill="none"/>
<circle cx="675.4" cy="618.0" r="1.5" fill="#6a5a4c"/>
<path d="M688.3,608.7 l0,3 l4,3" stroke="#5a4c40" stroke-width="1" fill="none"/>
<circle cx="688.3" cy="613.2" r="1.5" fill="#6a5a4c"/>
<circle cx="692.8" cy="615.7" r="1.5" fill="#6a5a4c"/>
<polygon points="409.0,625.0 423.0,620.8 423.0,698.6 409.0,703.3" fill="url(#pg)"/>
<polygon points="423.0,620.8 436.9,616.6 436.9,693.8 423.0,698.6" fill="url(#pg)"/>
<polygon points="436.9,616.6 450.9,612.5 450.9,689.1 436.9,693.8" fill="url(#pg)"/>
<polygon points="450.9,612.5 464.9,608.3 464.9,684.4 450.9,689.1" fill="url(#pg)"/>
<polygon points="464.9,608.3 478.8,604.1 478.8,679.7 464.9,684.4" fill="url(#pg)"/>
<polygon points="478.8,604.1 492.8,599.9 492.8,674.9 478.8,679.7" fill="url(#pg)"/>
<polygon points="492.8,599.9 506.8,595.8 506.8,670.2 492.8,674.9" fill="url(#pg)"/>
<polygon points="506.8,595.8 520.7,591.6 520.7,665.5 506.8,670.2" fill="url(#pg)"/>
<polygon points="520.7,591.6 534.7,587.4 534.7,660.7 520.7,665.5" fill="url(#pg)"/>
<polygon points="534.7,587.4 548.7,583.2 548.7,656.0 534.7,660.7" fill="url(#pg)"/>
<polygon points="548.7,583.2 562.6,579.1 562.6,651.3 548.7,656.0" fill="url(#pg)"/>
<polygon points="562.6,579.1 576.6,574.9 576.6,646.6 562.6,651.3" fill="url(#pg)"/>
<polygon points="576.6,574.9 590.6,570.7 590.6,641.8 576.6,646.6" fill="url(#pg)"/>
<polygon points="590.6,570.7 604.5,566.5 604.5,637.1 590.6,641.8" fill="url(#pg)"/>
<polygon points="604.5,566.5 618.5,562.4 618.5,632.4 604.5,637.1" fill="url(#pg)"/>
<polygon points="618.5,562.4 632.5,558.2 632.5,627.6 618.5,632.4" fill="url(#pg)"/>
<polygon points="632.5,558.2 646.4,554.0 646.4,622.9 632.5,627.6" fill="url(#pg)"/>
<polygon points="646.4,554.0 660.4,549.8 660.4,618.2 646.4,622.9" fill="url(#pg)"/>
<polygon points="660.4,549.8 674.4,545.7 674.4,613.5 660.4,618.2" fill="url(#pg)"/>
<polygon points="674.4,545.7 688.3,541.5 688.3,608.7 674.4,613.5" fill="url(#pg)"/>
<polygon points="688.3,541.5 702.3,537.3 702.3,604.0 688.3,608.7" fill="url(#pg)"/>
<line x1="423.0" y1="620.8" x2="423.0" y2="698.6" stroke="#4e5a66" stroke-width="1.3"/>
<line x1="436.9" y1="616.6" x2="436.9" y2="693.8" stroke="#4e5a66" stroke-width="1.3"/>
<line x1="450.9" y1="612.5" x2="450.9" y2="689.1" stroke="#4e5a66" stroke-width="1.3"/>
<line x1="464.9" y1="608.3" x2="464.9" y2="684.4" stroke="#4e5a66" stroke-width="1.3"/>
<line x1="478.8" y1="604.1" x2="478.8" y2="679.7" stroke="#4e5a66" stroke-width="1.3"/>
<line x1="492.8" y1="599.9" x2="492.8" y2="674.9" stroke="#4e5a66" stroke-width="1.3"/>
<line x1="506.8" y1="595.8" x2="506.8" y2="670.2" stroke="#4e5a66" stroke-width="1.3"/>
<line x1="520.7" y1="591.6" x2="520.7" y2="665.5" stroke="#4e5a66" stroke-width="1.3"/>
<line x1="534.7" y1="587.4" x2="534.7" y2="660.7" stroke="#4e5a66" stroke-width="1.3"/>
<line x1="548.7" y1="583.2" x2="548.7" y2="656.0" stroke="#4e5a66" stroke-width="1.3"/>
<line x1="562.6" y1="579.1" x2="562.6" y2="651.3" stroke="#4e5a66" stroke-width="1.3"/>
<line x1="576.6" y1="574.9" x2="576.6" y2="646.6" stroke="#4e5a66" stroke-width="1.3"/>
<line x1="590.6" y1="570.7" x2="590.6" y2="641.8" stroke="#4e5a66" stroke-width="1.3"/>
<line x1="604.5" y1="566.5" x2="604.5" y2="637.1" stroke="#4e5a66" stroke-width="1.3"/>
<line x1="618.5" y1="562.4" x2="618.5" y2="632.4" stroke="#4e5a66" stroke-width="1.3"/>
<line x1="632.5" y1="558.2" x2="632.5" y2="627.6" stroke="#4e5a66" stroke-width="1.3"/>
<line x1="646.4" y1="554.0" x2="646.4" y2="622.9" stroke="#4e5a66" stroke-width="1.3"/>
<line x1="660.4" y1="549.8" x2="660.4" y2="618.2" stroke="#4e5a66" stroke-width="1.3"/>
<line x1="674.4" y1="545.7" x2="674.4" y2="613.5" stroke="#4e5a66" stroke-width="1.3"/>
<line x1="688.3" y1="541.5" x2="688.3" y2="608.7" stroke="#4e5a66" stroke-width="1.3"/>
<line x1="564.0" y1="578.7" x2="564.0" y2="650.8" stroke="#2a2e33" stroke-width="1.8"/>
<line x1="409.0" y1="625.0" x2="702.3" y2="537.3" stroke="#3a3d44" stroke-width="1.4"/>
<line x1="409.0" y1="703.3" x2="702.3" y2="604.0" stroke="#6a7480" stroke-width="0.9"/>
<line x1="409.0" y1="625.0" x2="409.0" y2="703.3" stroke="#2a2d33" stroke-width="2"/>
<line x1="702.3" y1="537.3" x2="702.3" y2="604.0" stroke="#2a2d33" stroke-width="2"/>
<path d="M400.0,704.3 L400.0,680.3 Q400.0,676.3 404.0,676.3 L414.0,677.3 Q418.0,677.3 418.0,681.3 L418.0,708.3 M400.0,704.3 L418.0,708.3" stroke="#6e5e4e" stroke-width="1.1" fill="none"/>
<circle cx="400.0" cy="706.3" r="1.7" fill="#6a5a4c"/>
<circle cx="418.0" cy="710.3" r="1.7" fill="#6a5a4c"/>
<path d="M693.3,605.0 L693.3,581.0 Q693.3,577.0 697.3,577.0 L707.3,578.0 Q711.3,578.0 711.3,582.0 L711.3,609.0 M693.3,605.0 L711.3,609.0" stroke="#6e5e4e" stroke-width="1.1" fill="none"/>
<circle cx="693.3" cy="607.0" r="1.7" fill="#6a5a4c"/>
<circle cx="711.3" cy="611.0" r="1.7" fill="#6a5a4c"/>
<path d="M284.5,820.0 l0,3" stroke="#5a4c40" stroke-width="1" fill="none"/>
<circle cx="285.5" cy="824.5" r="1.5" fill="#6a5a4c"/>
<path d="M297.9,824.7 l0,3 l4,3" stroke="#5a4c40" stroke-width="1" fill="none"/>
<circle cx="297.9" cy="829.2" r="1.5" fill="#6a5a4c"/>
<circle cx="302.4" cy="831.7" r="1.5" fill="#6a5a4c"/>
<path d="M311.4,829.3 l0,3" stroke="#5a4c40" stroke-width="1" fill="none"/>
<circle cx="312.4" cy="833.8" r="1.5" fill="#6a5a4c"/>
<path d="M324.8,833.9 l0,3 l4,3" stroke="#5a4c40" stroke-width="1" fill="none"/>
<circle cx="324.8" cy="838.4" r="1.5" fill="#6a5a4c"/>
<circle cx="329.3" cy="840.9" r="1.5" fill="#6a5a4c"/>
<path d="M338.2,838.5 l0,3" stroke="#5a4c40" stroke-width="1" fill="none"/>
<circle cx="339.2" cy="843.0" r="1.5" fill="#6a5a4c"/>
<path d="M351.6,843.2 l0,3 l4,3" stroke="#5a4c40" stroke-width="1" fill="none"/>
<circle cx="351.6" cy="847.7" r="1.5" fill="#6a5a4c"/>
<circle cx="356.1" cy="850.2" r="1.5" fill="#6a5a4c"/>
<path d="M365.0,847.8 l0,3" stroke="#5a4c40" stroke-width="1" fill="none"/>
<circle cx="366.0" cy="852.3" r="1.5" fill="#6a5a4c"/>
<path d="M378.4,852.4 l0,3 l4,3" stroke="#5a4c40" stroke-width="1" fill="none"/>
<circle cx="378.4" cy="856.9" r="1.5" fill="#6a5a4c"/>
<circle cx="382.9" cy="859.4" r="1.5" fill="#6a5a4c"/>
<path d="M391.9,857.0 l0,3" stroke="#5a4c40" stroke-width="1" fill="none"/>
<circle cx="392.9" cy="861.5" r="1.5" fill="#6a5a4c"/>
<path d="M405.3,861.7 l0,3 l4,3" stroke="#5a4c40" stroke-width="1" fill="none"/>
<circle cx="405.3" cy="866.2" r="1.5" fill="#6a5a4c"/>
<circle cx="409.8" cy="868.7" r="1.5" fill="#6a5a4c"/>
<polygon points="271.1,756.3 284.5,760.4 284.5,820.0 271.1,815.4" fill="url(#pg)"/>
<polygon points="284.5,760.4 297.9,764.5 297.9,824.7 284.5,820.0" fill="url(#pg)"/>
<polygon points="297.9,764.5 311.4,768.6 311.4,829.3 297.9,824.7" fill="url(#pg)"/>
<polygon points="311.4,768.6 324.8,772.7 324.8,833.9 311.4,829.3" fill="url(#pg)"/>
<polygon points="324.8,772.7 338.2,776.8 338.2,838.5 324.8,833.9" fill="url(#pg)"/>
<polygon points="338.2,776.8 351.6,780.8 351.6,843.2 338.2,838.5" fill="url(#pg)"/>
<polygon points="351.6,780.8 365.0,784.9 365.0,847.8 351.6,843.2" fill="url(#pg)"/>
<polygon points="365.0,784.9 378.4,789.0 378.4,852.4 365.0,847.8" fill="url(#pg)"/>
<polygon points="378.4,789.0 391.9,793.1 391.9,857.0 378.4,852.4" fill="url(#pg)"/>
<polygon points="391.9,793.1 405.3,797.2 405.3,861.7 391.9,857.0" fill="url(#pg)"/>
<polygon points="405.3,797.2 418.7,801.3 418.7,866.3 405.3,861.7" fill="url(#pg)"/>
<line x1="284.5" y1="760.4" x2="284.5" y2="820.0" stroke="#4e5a66" stroke-width="1.3"/>
<line x1="297.9" y1="764.5" x2="297.9" y2="824.7" stroke="#4e5a66" stroke-width="1.3"/>
<line x1="311.4" y1="768.6" x2="311.4" y2="829.3" stroke="#4e5a66" stroke-width="1.3"/>
<line x1="324.8" y1="772.7" x2="324.8" y2="833.9" stroke="#4e5a66" stroke-width="1.3"/>
<line x1="338.2" y1="776.8" x2="338.2" y2="838.5" stroke="#4e5a66" stroke-width="1.3"/>
<line x1="351.6" y1="780.8" x2="351.6" y2="843.2" stroke="#4e5a66" stroke-width="1.3"/>
<line x1="365.0" y1="784.9" x2="365.0" y2="847.8" stroke="#4e5a66" stroke-width="1.3"/>
<line x1="378.4" y1="789.0" x2="378.4" y2="852.4" stroke="#4e5a66" stroke-width="1.3"/>
<line x1="391.9" y1="793.1" x2="391.9" y2="857.0" stroke="#4e5a66" stroke-width="1.3"/>
<line x1="405.3" y1="797.2" x2="405.3" y2="861.7" stroke="#4e5a66" stroke-width="1.3"/>
<line x1="271.1" y1="756.3" x2="418.7" y2="801.3" stroke="#3a3d44" stroke-width="1.4"/>
<line x1="271.1" y1="815.4" x2="418.7" y2="866.3" stroke="#6a7480" stroke-width="0.9"/>
<line x1="271.1" y1="756.3" x2="271.1" y2="815.4" stroke="#2a2d33" stroke-width="2"/>
<line x1="418.7" y1="801.3" x2="418.7" y2="866.3" stroke="#2a2d33" stroke-width="2"/>
<path d="M262.1,816.4 L262.1,792.4 Q262.1,788.4 266.1,788.4 L276.1,789.4 Q280.1,789.4 280.1,793.4 L280.1,820.4 M262.1,816.4 L280.1,820.4" stroke="#6e5e4e" stroke-width="1.1" fill="none"/>
<circle cx="262.1" cy="818.4" r="1.7" fill="#6a5a4c"/>
<circle cx="280.1" cy="822.4" r="1.7" fill="#6a5a4c"/>
<path d="M456.0,774.9 l0,3" stroke="#5a4c40" stroke-width="1" fill="none"/>
<circle cx="457.0" cy="779.4" r="1.5" fill="#6a5a4c"/>
<path d="M469.4,779.6 l0,3 l4,3" stroke="#5a4c40" stroke-width="1" fill="none"/>
<circle cx="469.4" cy="784.1" r="1.5" fill="#6a5a4c"/>
<circle cx="473.9" cy="786.6" r="1.5" fill="#6a5a4c"/>
<path d="M482.7,784.2 l0,3" stroke="#5a4c40" stroke-width="1" fill="none"/>
<circle cx="483.7" cy="788.7" r="1.5" fill="#6a5a4c"/>
<path d="M496.0,788.9 l0,3 l4,3" stroke="#5a4c40" stroke-width="1" fill="none"/>
<circle cx="496.0" cy="793.4" r="1.5" fill="#6a5a4c"/>
<circle cx="500.5" cy="795.9" r="1.5" fill="#6a5a4c"/>
<path d="M509.4,793.5 l0,3" stroke="#5a4c40" stroke-width="1" fill="none"/>
<circle cx="510.4" cy="798.0" r="1.5" fill="#6a5a4c"/>
<path d="M522.7,798.1 l0,3 l4,3" stroke="#5a4c40" stroke-width="1" fill="none"/>
<circle cx="522.7" cy="802.6" r="1.5" fill="#6a5a4c"/>
<circle cx="527.2" cy="805.1" r="1.5" fill="#6a5a4c"/>
<path d="M536.0,802.8 l0,3" stroke="#5a4c40" stroke-width="1" fill="none"/>
<circle cx="537.0" cy="807.3" r="1.5" fill="#6a5a4c"/>
<path d="M549.3,807.4 l0,3 l4,3" stroke="#5a4c40" stroke-width="1" fill="none"/>
<circle cx="549.3" cy="811.9" r="1.5" fill="#6a5a4c"/>
<circle cx="553.8" cy="814.4" r="1.5" fill="#6a5a4c"/>
<path d="M562.7,812.1 l0,3" stroke="#5a4c40" stroke-width="1" fill="none"/>
<circle cx="563.7" cy="816.6" r="1.5" fill="#6a5a4c"/>
<polygon points="442.7,716.0 456.0,720.1 456.0,774.9 442.7,770.3" fill="url(#pg)"/>
<polygon points="456.0,720.1 469.4,724.1 469.4,779.6 456.0,774.9" fill="url(#pg)"/>
<polygon points="469.4,724.1 482.7,728.2 482.7,784.2 469.4,779.6" fill="url(#pg)"/>
<polygon points="482.7,728.2 496.0,732.2 496.0,788.9 482.7,784.2" fill="url(#pg)"/>
<polygon points="496.0,732.2 509.4,736.3 509.4,793.5 496.0,788.9" fill="url(#pg)"/>
<polygon points="509.4,736.3 522.7,740.4 522.7,798.1 509.4,793.5" fill="url(#pg)"/>
<polygon points="522.7,740.4 536.0,744.4 536.0,802.8 522.7,798.1" fill="url(#pg)"/>
<polygon points="536.0,744.4 549.3,748.5 549.3,807.4 536.0,802.8" fill="url(#pg)"/>
<polygon points="549.3,748.5 562.7,752.5 562.7,812.1 549.3,807.4" fill="url(#pg)"/>
<polygon points="562.7,752.5 576.0,756.6 576.0,816.7 562.7,812.1" fill="url(#pg)"/>
<line x1="456.0" y1="720.1" x2="456.0" y2="774.9" stroke="#4e5a66" stroke-width="1.3"/>
<line x1="469.4" y1="724.1" x2="469.4" y2="779.6" stroke="#4e5a66" stroke-width="1.3"/>
<line x1="482.7" y1="728.2" x2="482.7" y2="784.2" stroke="#4e5a66" stroke-width="1.3"/>
<line x1="496.0" y1="732.2" x2="496.0" y2="788.9" stroke="#4e5a66" stroke-width="1.3"/>
<line x1="509.4" y1="736.3" x2="509.4" y2="793.5" stroke="#4e5a66" stroke-width="1.3"/>
<line x1="522.7" y1="740.4" x2="522.7" y2="798.1" stroke="#4e5a66" stroke-width="1.3"/>
<line x1="536.0" y1="744.4" x2="536.0" y2="802.8" stroke="#4e5a66" stroke-width="1.3"/>
<line x1="549.3" y1="748.5" x2="549.3" y2="807.4" stroke="#4e5a66" stroke-width="1.3"/>
<line x1="562.7" y1="752.5" x2="562.7" y2="812.1" stroke="#4e5a66" stroke-width="1.3"/>
<line x1="442.7" y1="716.0" x2="576.0" y2="756.6" stroke="#3a3d44" stroke-width="1.4"/>
<line x1="442.7" y1="770.3" x2="576.0" y2="816.7" stroke="#6a7480" stroke-width="0.9"/>
<line x1="442.7" y1="716.0" x2="442.7" y2="770.3" stroke="#2a2d33" stroke-width="2"/>
<line x1="576.0" y1="756.6" x2="576.0" y2="816.7" stroke="#2a2d33" stroke-width="2"/>
<path d="M433.7,771.3 L433.7,747.3 Q433.7,743.3 437.7,743.3 L447.7,744.3 Q451.7,744.3 451.7,748.3 L451.7,775.3 M433.7,771.3 L451.7,775.3" stroke="#6e5e4e" stroke-width="1.1" fill="none"/>
<circle cx="433.7" cy="773.3" r="1.7" fill="#6a5a4c"/>
<circle cx="451.7" cy="777.3" r="1.7" fill="#6a5a4c"/>
<path d="M589.2,812.3 l0,3" stroke="#5a4c40" stroke-width="1" fill="none"/>
<circle cx="590.2" cy="816.8" r="1.5" fill="#6a5a4c"/>
<path d="M602.4,807.9 l0,3 l4,3" stroke="#5a4c40" stroke-width="1" fill="none"/>
<circle cx="602.4" cy="812.4" r="1.5" fill="#6a5a4c"/>
<circle cx="606.9" cy="814.9" r="1.5" fill="#6a5a4c"/>
<path d="M615.5,803.5 l0,3" stroke="#5a4c40" stroke-width="1" fill="none"/>
<circle cx="616.5" cy="808.0" r="1.5" fill="#6a5a4c"/>
<path d="M628.7,799.1 l0,3 l4,3" stroke="#5a4c40" stroke-width="1" fill="none"/>
<circle cx="628.7" cy="803.6" r="1.5" fill="#6a5a4c"/>
<circle cx="633.2" cy="806.1" r="1.5" fill="#6a5a4c"/>
<path d="M641.9,794.8 l0,3" stroke="#5a4c40" stroke-width="1" fill="none"/>
<circle cx="642.9" cy="799.3" r="1.5" fill="#6a5a4c"/>
<path d="M655.1,790.4 l0,3 l4,3" stroke="#5a4c40" stroke-width="1" fill="none"/>
<circle cx="655.1" cy="794.9" r="1.5" fill="#6a5a4c"/>
<circle cx="659.6" cy="797.4" r="1.5" fill="#6a5a4c"/>
<path d="M668.2,786.0 l0,3" stroke="#5a4c40" stroke-width="1" fill="none"/>
<circle cx="669.2" cy="790.5" r="1.5" fill="#6a5a4c"/>
<path d="M681.4,781.6 l0,3 l4,3" stroke="#5a4c40" stroke-width="1" fill="none"/>
<circle cx="681.4" cy="786.1" r="1.5" fill="#6a5a4c"/>
<circle cx="685.9" cy="788.6" r="1.5" fill="#6a5a4c"/>
<polygon points="576.0,756.6 589.2,752.8 589.2,812.3 576.0,816.7" fill="url(#pg)"/>
<polygon points="589.2,752.8 602.4,749.0 602.4,807.9 589.2,812.3" fill="url(#pg)"/>
<polygon points="602.4,749.0 615.5,745.1 615.5,803.5 602.4,807.9" fill="url(#pg)"/>
<polygon points="615.5,745.1 628.7,741.3 628.7,799.1 615.5,803.5" fill="url(#pg)"/>
<polygon points="628.7,741.3 641.9,737.5 641.9,794.8 628.7,799.1" fill="url(#pg)"/>
<polygon points="641.9,737.5 655.1,733.7 655.1,790.4 641.9,794.8" fill="url(#pg)"/>
<polygon points="655.1,733.7 668.2,729.8 668.2,786.0 655.1,790.4" fill="url(#pg)"/>
<polygon points="668.2,729.8 681.4,726.0 681.4,781.6 668.2,786.0" fill="url(#pg)"/>
<polygon points="681.4,726.0 694.6,722.2 694.6,777.2 681.4,781.6" fill="url(#pg)"/>
<line x1="589.2" y1="752.8" x2="589.2" y2="812.3" stroke="#4e5a66" stroke-width="1.3"/>
<line x1="602.4" y1="749.0" x2="602.4" y2="807.9" stroke="#4e5a66" stroke-width="1.3"/>
<line x1="615.5" y1="745.1" x2="615.5" y2="803.5" stroke="#4e5a66" stroke-width="1.3"/>
<line x1="628.7" y1="741.3" x2="628.7" y2="799.1" stroke="#4e5a66" stroke-width="1.3"/>
<line x1="641.9" y1="737.5" x2="641.9" y2="794.8" stroke="#4e5a66" stroke-width="1.3"/>
<line x1="655.1" y1="733.7" x2="655.1" y2="790.4" stroke="#4e5a66" stroke-width="1.3"/>
<line x1="668.2" y1="729.8" x2="668.2" y2="786.0" stroke="#4e5a66" stroke-width="1.3"/>
<line x1="681.4" y1="726.0" x2="681.4" y2="781.6" stroke="#4e5a66" stroke-width="1.3"/>
<line x1="576.0" y1="756.6" x2="694.6" y2="722.2" stroke="#3a3d44" stroke-width="1.4"/>
<line x1="576.0" y1="816.7" x2="694.6" y2="777.2" stroke="#6a7480" stroke-width="0.9"/>
<line x1="576.0" y1="756.6" x2="576.0" y2="816.7" stroke="#2a2d33" stroke-width="2"/>
<line x1="694.6" y1="722.2" x2="694.6" y2="777.2" stroke="#2a2d33" stroke-width="2"/>
<path d="M685.6,778.2 L685.6,754.2 Q685.6,750.2 689.6,750.2 L699.6,751.2 Q703.6,751.2 703.6,755.2 L703.6,782.2 M685.6,778.2 L703.6,782.2" stroke="#6e5e4e" stroke-width="1.1" fill="none"/>
<circle cx="685.6" cy="780.2" r="1.7" fill="#6a5a4c"/>
<circle cx="703.6" cy="784.2" r="1.7" fill="#6a5a4c"/>
<path d="M433.0,861.8 l0,3" stroke="#5a4c40" stroke-width="1" fill="none"/>
<circle cx="434.0" cy="866.3" r="1.5" fill="#6a5a4c"/>
<path d="M447.3,857.3 l0,3 l4,3" stroke="#5a4c40" stroke-width="1" fill="none"/>
<circle cx="447.3" cy="861.8" r="1.5" fill="#6a5a4c"/>
<circle cx="451.8" cy="864.3" r="1.5" fill="#6a5a4c"/>
<path d="M461.6,852.8 l0,3" stroke="#5a4c40" stroke-width="1" fill="none"/>
<circle cx="462.6" cy="857.3" r="1.5" fill="#6a5a4c"/>
<path d="M475.9,848.3 l0,3 l4,3" stroke="#5a4c40" stroke-width="1" fill="none"/>
<circle cx="475.9" cy="852.8" r="1.5" fill="#6a5a4c"/>
<circle cx="480.4" cy="855.3" r="1.5" fill="#6a5a4c"/>
<path d="M490.2,843.8 l0,3" stroke="#5a4c40" stroke-width="1" fill="none"/>
<circle cx="491.2" cy="848.3" r="1.5" fill="#6a5a4c"/>
<path d="M504.5,839.2 l0,3 l4,3" stroke="#5a4c40" stroke-width="1" fill="none"/>
<circle cx="504.5" cy="843.7" r="1.5" fill="#6a5a4c"/>
<circle cx="509.0" cy="846.2" r="1.5" fill="#6a5a4c"/>
<path d="M518.8,834.7 l0,3" stroke="#5a4c40" stroke-width="1" fill="none"/>
<circle cx="519.8" cy="839.2" r="1.5" fill="#6a5a4c"/>
<path d="M533.1,830.2 l0,3 l4,3" stroke="#5a4c40" stroke-width="1" fill="none"/>
<circle cx="533.1" cy="834.7" r="1.5" fill="#6a5a4c"/>
<circle cx="537.6" cy="837.2" r="1.5" fill="#6a5a4c"/>
<path d="M547.4,825.7 l0,3" stroke="#5a4c40" stroke-width="1" fill="none"/>
<circle cx="548.4" cy="830.2" r="1.5" fill="#6a5a4c"/>
<path d="M561.7,821.2 l0,3 l4,3" stroke="#5a4c40" stroke-width="1" fill="none"/>
<circle cx="561.7" cy="825.7" r="1.5" fill="#6a5a4c"/>
<circle cx="566.2" cy="828.2" r="1.5" fill="#6a5a4c"/>
<polygon points="418.7,801.3 433.0,797.2 433.0,861.8 418.7,866.3" fill="url(#pg)"/>
<polygon points="433.0,797.2 447.3,793.2 447.3,857.3 433.0,861.8" fill="url(#pg)"/>
<polygon points="447.3,793.2 461.6,789.1 461.6,852.8 447.3,857.3" fill="url(#pg)"/>
<polygon points="461.6,789.1 475.9,785.0 475.9,848.3 461.6,852.8" fill="url(#pg)"/>
<polygon points="475.9,785.0 490.2,781.0 490.2,843.8 475.9,848.3" fill="url(#pg)"/>
<polygon points="490.2,781.0 504.5,776.9 504.5,839.2 490.2,843.8" fill="url(#pg)"/>
<polygon points="504.5,776.9 518.8,772.9 518.8,834.7 504.5,839.2" fill="url(#pg)"/>
<polygon points="518.8,772.9 533.1,768.8 533.1,830.2 518.8,834.7" fill="url(#pg)"/>
<polygon points="533.1,768.8 547.4,764.7 547.4,825.7 533.1,830.2" fill="url(#pg)"/>
<polygon points="547.4,764.7 561.7,760.7 561.7,821.2 547.4,825.7" fill="url(#pg)"/>
<polygon points="561.7,760.7 576.0,756.6 576.0,816.7 561.7,821.2" fill="url(#pg)"/>
<line x1="433.0" y1="797.2" x2="433.0" y2="861.8" stroke="#4e5a66" stroke-width="1.3"/>
<line x1="447.3" y1="793.2" x2="447.3" y2="857.3" stroke="#4e5a66" stroke-width="1.3"/>
<line x1="461.6" y1="789.1" x2="461.6" y2="852.8" stroke="#4e5a66" stroke-width="1.3"/>
<line x1="475.9" y1="785.0" x2="475.9" y2="848.3" stroke="#4e5a66" stroke-width="1.3"/>
<line x1="490.2" y1="781.0" x2="490.2" y2="843.8" stroke="#4e5a66" stroke-width="1.3"/>
<line x1="504.5" y1="776.9" x2="504.5" y2="839.2" stroke="#4e5a66" stroke-width="1.3"/>
<line x1="518.8" y1="772.9" x2="518.8" y2="834.7" stroke="#4e5a66" stroke-width="1.3"/>
<line x1="533.1" y1="768.8" x2="533.1" y2="830.2" stroke="#4e5a66" stroke-width="1.3"/>
<line x1="547.4" y1="764.7" x2="547.4" y2="825.7" stroke="#4e5a66" stroke-width="1.3"/>
<line x1="561.7" y1="760.7" x2="561.7" y2="821.2" stroke="#4e5a66" stroke-width="1.3"/>
<line x1="552.7" y1="763.2" x2="552.7" y2="824.0" stroke="#2a2e33" stroke-width="1.8"/>
<line x1="418.7" y1="801.3" x2="576.0" y2="756.6" stroke="#3a3d44" stroke-width="1.4"/>
<line x1="418.7" y1="866.3" x2="576.0" y2="816.7" stroke="#6a7480" stroke-width="0.9"/>
<line x1="418.7" y1="801.3" x2="418.7" y2="866.3" stroke="#2a2d33" stroke-width="2"/>
<line x1="576.0" y1="756.6" x2="576.0" y2="816.7" stroke="#2a2d33" stroke-width="2"/>
<path d="M589.4,821.1 l0,3" stroke="#5a4c40" stroke-width="1" fill="none"/>
<circle cx="590.4" cy="825.6" r="1.5" fill="#6a5a4c"/>
<path d="M602.8,825.4 l0,3 l4,3" stroke="#5a4c40" stroke-width="1" fill="none"/>
<circle cx="602.8" cy="829.9" r="1.5" fill="#6a5a4c"/>
<circle cx="607.3" cy="832.4" r="1.5" fill="#6a5a4c"/>
<path d="M616.2,829.8 l0,3" stroke="#5a4c40" stroke-width="1" fill="none"/>
<circle cx="617.2" cy="834.3" r="1.5" fill="#6a5a4c"/>
<path d="M629.6,834.2 l0,3 l4,3" stroke="#5a4c40" stroke-width="1" fill="none"/>
<circle cx="629.6" cy="838.7" r="1.5" fill="#6a5a4c"/>
<circle cx="634.1" cy="841.2" r="1.5" fill="#6a5a4c"/>
<path d="M643.0,838.6 l0,3" stroke="#5a4c40" stroke-width="1" fill="none"/>
<circle cx="644.0" cy="843.1" r="1.5" fill="#6a5a4c"/>
<path d="M656.5,842.9 l0,3 l4,3" stroke="#5a4c40" stroke-width="1" fill="none"/>
<circle cx="656.5" cy="847.4" r="1.5" fill="#6a5a4c"/>
<circle cx="661.0" cy="849.9" r="1.5" fill="#6a5a4c"/>
<path d="M669.9,847.3 l0,3" stroke="#5a4c40" stroke-width="1" fill="none"/>
<circle cx="670.9" cy="851.8" r="1.5" fill="#6a5a4c"/>
<path d="M683.3,851.7 l0,3 l4,3" stroke="#5a4c40" stroke-width="1" fill="none"/>
<circle cx="683.3" cy="856.2" r="1.5" fill="#6a5a4c"/>
<circle cx="687.8" cy="858.7" r="1.5" fill="#6a5a4c"/>
<path d="M696.7,856.1 l0,3" stroke="#5a4c40" stroke-width="1" fill="none"/>
<circle cx="697.7" cy="860.6" r="1.5" fill="#6a5a4c"/>
<path d="M710.1,860.4 l0,3 l4,3" stroke="#5a4c40" stroke-width="1" fill="none"/>
<circle cx="710.1" cy="864.9" r="1.5" fill="#6a5a4c"/>
<circle cx="714.6" cy="867.4" r="1.5" fill="#6a5a4c"/>
<polygon points="576.0,756.6 589.4,760.6 589.4,821.1 576.0,816.7" fill="url(#pg)"/>
<polygon points="589.4,760.6 602.8,764.6 602.8,825.4 589.4,821.1" fill="url(#pg)"/>
<polygon points="602.8,764.6 616.2,768.6 616.2,829.8 602.8,825.4" fill="url(#pg)"/>
<polygon points="616.2,768.6 629.6,772.6 629.6,834.2 616.2,829.8" fill="url(#pg)"/>
<polygon points="629.6,772.6 643.0,776.6 643.0,838.6 629.6,834.2" fill="url(#pg)"/>
<polygon points="643.0,776.6 656.5,780.6 656.5,842.9 643.0,838.6" fill="url(#pg)"/>
<polygon points="656.5,780.6 669.9,784.6 669.9,847.3 656.5,842.9" fill="url(#pg)"/>
<polygon points="669.9,784.6 683.3,788.6 683.3,851.7 669.9,847.3" fill="url(#pg)"/>
<polygon points="683.3,788.6 696.7,792.6 696.7,856.1 683.3,851.7" fill="url(#pg)"/>
<polygon points="696.7,792.6 710.1,796.6 710.1,860.4 696.7,856.1" fill="url(#pg)"/>
<polygon points="710.1,796.6 723.5,800.6 723.5,864.8 710.1,860.4" fill="url(#pg)"/>
<line x1="589.4" y1="760.6" x2="589.4" y2="821.1" stroke="#4e5a66" stroke-width="1.3"/>
<line x1="602.8" y1="764.6" x2="602.8" y2="825.4" stroke="#4e5a66" stroke-width="1.3"/>
<line x1="616.2" y1="768.6" x2="616.2" y2="829.8" stroke="#4e5a66" stroke-width="1.3"/>
<line x1="629.6" y1="772.6" x2="629.6" y2="834.2" stroke="#4e5a66" stroke-width="1.3"/>
<line x1="643.0" y1="776.6" x2="643.0" y2="838.6" stroke="#4e5a66" stroke-width="1.3"/>
<line x1="656.5" y1="780.6" x2="656.5" y2="842.9" stroke="#4e5a66" stroke-width="1.3"/>
<line x1="669.9" y1="784.6" x2="669.9" y2="847.3" stroke="#4e5a66" stroke-width="1.3"/>
<line x1="683.3" y1="788.6" x2="683.3" y2="851.7" stroke="#4e5a66" stroke-width="1.3"/>
<line x1="696.7" y1="792.6" x2="696.7" y2="856.1" stroke="#4e5a66" stroke-width="1.3"/>
<line x1="710.1" y1="796.6" x2="710.1" y2="860.4" stroke="#4e5a66" stroke-width="1.3"/>
<line x1="576.0" y1="756.6" x2="723.5" y2="800.6" stroke="#3a3d44" stroke-width="1.4"/>
<line x1="576.0" y1="816.7" x2="723.5" y2="864.8" stroke="#6a7480" stroke-width="0.9"/>
<line x1="576.0" y1="756.6" x2="576.0" y2="816.7" stroke="#2a2d33" stroke-width="2"/>
<line x1="723.5" y1="800.6" x2="723.5" y2="864.8" stroke="#2a2d33" stroke-width="2"/>
<path d="M714.5,865.8 L714.5,841.8 Q714.5,837.8 718.5,837.8 L728.5,838.8 Q732.5,838.8 732.5,842.8 L732.5,869.8 M714.5,865.8 L732.5,869.8" stroke="#6e5e4e" stroke-width="1.1" fill="none"/>
<circle cx="714.5" cy="867.8" r="1.7" fill="#6a5a4c"/>
<circle cx="732.5" cy="871.8" r="1.7" fill="#6a5a4c"/>
<path d="M229.0,928.2 l0,3" stroke="#5a4c40" stroke-width="1" fill="none"/>
<circle cx="230.0" cy="932.7" r="1.5" fill="#6a5a4c"/>
<path d="M242.6,923.8 l0,3 l4,3" stroke="#5a4c40" stroke-width="1" fill="none"/>
<circle cx="242.6" cy="928.3" r="1.5" fill="#6a5a4c"/>
<circle cx="247.1" cy="930.8" r="1.5" fill="#6a5a4c"/>
<path d="M256.1,919.3 l0,3" stroke="#5a4c40" stroke-width="1" fill="none"/>
<circle cx="257.1" cy="923.8" r="1.5" fill="#6a5a4c"/>
<path d="M269.7,914.9 l0,3 l4,3" stroke="#5a4c40" stroke-width="1" fill="none"/>
<circle cx="269.7" cy="919.4" r="1.5" fill="#6a5a4c"/>
<circle cx="274.2" cy="921.9" r="1.5" fill="#6a5a4c"/>
<path d="M283.2,910.5 l0,3" stroke="#5a4c40" stroke-width="1" fill="none"/>
<circle cx="284.2" cy="915.0" r="1.5" fill="#6a5a4c"/>
<path d="M296.8,906.1 l0,3 l4,3" stroke="#5a4c40" stroke-width="1" fill="none"/>
<circle cx="296.8" cy="910.6" r="1.5" fill="#6a5a4c"/>
<circle cx="301.3" cy="913.1" r="1.5" fill="#6a5a4c"/>
<path d="M310.3,901.7 l0,3" stroke="#5a4c40" stroke-width="1" fill="none"/>
<circle cx="311.3" cy="906.2" r="1.5" fill="#6a5a4c"/>
<path d="M323.9,897.2 l0,3 l4,3" stroke="#5a4c40" stroke-width="1" fill="none"/>
<circle cx="323.9" cy="901.7" r="1.5" fill="#6a5a4c"/>
<circle cx="328.4" cy="904.2" r="1.5" fill="#6a5a4c"/>
<path d="M337.4,892.8 l0,3" stroke="#5a4c40" stroke-width="1" fill="none"/>
<circle cx="338.4" cy="897.3" r="1.5" fill="#6a5a4c"/>
<path d="M351.0,888.4 l0,3 l4,3" stroke="#5a4c40" stroke-width="1" fill="none"/>
<circle cx="351.0" cy="892.9" r="1.5" fill="#6a5a4c"/>
<circle cx="355.5" cy="895.4" r="1.5" fill="#6a5a4c"/>
<path d="M364.5,884.0 l0,3" stroke="#5a4c40" stroke-width="1" fill="none"/>
<circle cx="365.5" cy="888.5" r="1.5" fill="#6a5a4c"/>
<path d="M378.1,879.6 l0,3 l4,3" stroke="#5a4c40" stroke-width="1" fill="none"/>
<circle cx="378.1" cy="884.1" r="1.5" fill="#6a5a4c"/>
<circle cx="382.6" cy="886.6" r="1.5" fill="#6a5a4c"/>
<path d="M391.6,875.1 l0,3" stroke="#5a4c40" stroke-width="1" fill="none"/>
<circle cx="392.6" cy="879.6" r="1.5" fill="#6a5a4c"/>
<path d="M405.2,870.7 l0,3 l4,3" stroke="#5a4c40" stroke-width="1" fill="none"/>
<circle cx="405.2" cy="875.2" r="1.5" fill="#6a5a4c"/>
<circle cx="409.7" cy="877.7" r="1.5" fill="#6a5a4c"/>
<polygon points="215.5,858.7 229.0,854.9 229.0,928.2 215.5,932.6" fill="url(#pg)"/>
<polygon points="229.0,854.9 242.6,851.0 242.6,923.8 229.0,928.2" fill="url(#pg)"/>
<polygon points="242.6,851.0 256.1,847.2 256.1,919.3 242.6,923.8" fill="url(#pg)"/>
<polygon points="256.1,847.2 269.7,843.4 269.7,914.9 256.1,919.3" fill="url(#pg)"/>
<polygon points="269.7,843.4 283.2,839.6 283.2,910.5 269.7,914.9" fill="url(#pg)"/>
<polygon points="283.2,839.6 296.8,835.7 296.8,906.1 283.2,910.5" fill="url(#pg)"/>
<polygon points="296.8,835.7 310.3,831.9 310.3,901.7 296.8,906.1" fill="url(#pg)"/>
<polygon points="310.3,831.9 323.9,828.1 323.9,897.2 310.3,901.7" fill="url(#pg)"/>
<polygon points="323.9,828.1 337.4,824.3 337.4,892.8 323.9,897.2" fill="url(#pg)"/>
<polygon points="337.4,824.3 351.0,820.4 351.0,888.4 337.4,892.8" fill="url(#pg)"/>
<polygon points="351.0,820.4 364.5,816.6 364.5,884.0 351.0,888.4" fill="url(#pg)"/>
<polygon points="364.5,816.6 378.1,812.8 378.1,879.6 364.5,884.0" fill="url(#pg)"/>
<polygon points="378.1,812.8 391.6,809.0 391.6,875.1 378.1,879.6" fill="url(#pg)"/>
<polygon points="391.6,809.0 405.2,805.1 405.2,870.7 391.6,875.1" fill="url(#pg)"/>
<polygon points="405.2,805.1 418.7,801.3 418.7,866.3 405.2,870.7" fill="url(#pg)"/>
<line x1="229.0" y1="854.9" x2="229.0" y2="928.2" stroke="#4e5a66" stroke-width="1.3"/>
<line x1="242.6" y1="851.0" x2="242.6" y2="923.8" stroke="#4e5a66" stroke-width="1.3"/>
<line x1="256.1" y1="847.2" x2="256.1" y2="919.3" stroke="#4e5a66" stroke-width="1.3"/>
<line x1="269.7" y1="843.4" x2="269.7" y2="914.9" stroke="#4e5a66" stroke-width="1.3"/>
<line x1="283.2" y1="839.6" x2="283.2" y2="910.5" stroke="#4e5a66" stroke-width="1.3"/>
<line x1="296.8" y1="835.7" x2="296.8" y2="906.1" stroke="#4e5a66" stroke-width="1.3"/>
<line x1="310.3" y1="831.9" x2="310.3" y2="901.7" stroke="#4e5a66" stroke-width="1.3"/>
<line x1="323.9" y1="828.1" x2="323.9" y2="897.2" stroke="#4e5a66" stroke-width="1.3"/>
<line x1="337.4" y1="824.3" x2="337.4" y2="892.8" stroke="#4e5a66" stroke-width="1.3"/>
<line x1="351.0" y1="820.4" x2="351.0" y2="888.4" stroke="#4e5a66" stroke-width="1.3"/>
<line x1="364.5" y1="816.6" x2="364.5" y2="884.0" stroke="#4e5a66" stroke-width="1.3"/>
<line x1="378.1" y1="812.8" x2="378.1" y2="879.6" stroke="#4e5a66" stroke-width="1.3"/>
<line x1="391.6" y1="809.0" x2="391.6" y2="875.1" stroke="#4e5a66" stroke-width="1.3"/>
<line x1="405.2" y1="805.1" x2="405.2" y2="870.7" stroke="#4e5a66" stroke-width="1.3"/>
<line x1="392.6" y1="808.7" x2="392.6" y2="874.8" stroke="#2a2e33" stroke-width="1.8"/>
<line x1="215.5" y1="858.7" x2="418.7" y2="801.3" stroke="#3a3d44" stroke-width="1.4"/>
<line x1="215.5" y1="932.6" x2="418.7" y2="866.3" stroke="#6a7480" stroke-width="0.9"/>
<line x1="215.5" y1="858.7" x2="215.5" y2="932.6" stroke="#2a2d33" stroke-width="2"/>
<line x1="418.7" y1="801.3" x2="418.7" y2="866.3" stroke="#2a2d33" stroke-width="2"/>
<path d="M206.5,933.6 L206.5,909.6 Q206.5,905.6 210.5,905.6 L220.5,906.6 Q224.5,906.6 224.5,910.6 L224.5,937.6 M206.5,933.6 L224.5,937.6" stroke="#6e5e4e" stroke-width="1.1" fill="none"/>
<circle cx="206.5" cy="935.6" r="1.7" fill="#6a5a4c"/>
<circle cx="224.5" cy="939.6" r="1.7" fill="#6a5a4c"/>
<path d="M432.3,870.9 l0,3" stroke="#5a4c40" stroke-width="1" fill="none"/>
<circle cx="433.3" cy="875.4" r="1.5" fill="#6a5a4c"/>
<path d="M445.9,875.5 l0,3 l4,3" stroke="#5a4c40" stroke-width="1" fill="none"/>
<circle cx="445.9" cy="880.0" r="1.5" fill="#6a5a4c"/>
<circle cx="450.4" cy="882.5" r="1.5" fill="#6a5a4c"/>
<path d="M459.5,880.1 l0,3" stroke="#5a4c40" stroke-width="1" fill="none"/>
<circle cx="460.5" cy="884.6" r="1.5" fill="#6a5a4c"/>
<path d="M473.1,884.7 l0,3 l4,3" stroke="#5a4c40" stroke-width="1" fill="none"/>
<circle cx="473.1" cy="889.2" r="1.5" fill="#6a5a4c"/>
<circle cx="477.6" cy="891.7" r="1.5" fill="#6a5a4c"/>
<path d="M486.7,889.3 l0,3" stroke="#5a4c40" stroke-width="1" fill="none"/>
<circle cx="487.7" cy="893.8" r="1.5" fill="#6a5a4c"/>
<path d="M500.3,894.0 l0,3 l4,3" stroke="#5a4c40" stroke-width="1" fill="none"/>
<circle cx="500.3" cy="898.5" r="1.5" fill="#6a5a4c"/>
<circle cx="504.8" cy="901.0" r="1.5" fill="#6a5a4c"/>
<path d="M513.9,898.6 l0,3" stroke="#5a4c40" stroke-width="1" fill="none"/>
<circle cx="514.9" cy="903.1" r="1.5" fill="#6a5a4c"/>
<path d="M527.5,903.2 l0,3 l4,3" stroke="#5a4c40" stroke-width="1" fill="none"/>
<circle cx="527.5" cy="907.7" r="1.5" fill="#6a5a4c"/>
<circle cx="532.0" cy="910.2" r="1.5" fill="#6a5a4c"/>
<path d="M541.1,907.8 l0,3" stroke="#5a4c40" stroke-width="1" fill="none"/>
<circle cx="542.1" cy="912.3" r="1.5" fill="#6a5a4c"/>
<path d="M554.7,912.4 l0,3 l4,3" stroke="#5a4c40" stroke-width="1" fill="none"/>
<circle cx="554.7" cy="916.9" r="1.5" fill="#6a5a4c"/>
<circle cx="559.2" cy="919.4" r="1.5" fill="#6a5a4c"/>
<path d="M568.3,917.0 l0,3" stroke="#5a4c40" stroke-width="1" fill="none"/>
<circle cx="569.3" cy="921.5" r="1.5" fill="#6a5a4c"/>
<polygon points="418.7,801.3 432.3,805.4 432.3,870.9 418.7,866.3" fill="url(#pg)"/>
<polygon points="432.3,805.4 445.9,809.6 445.9,875.5 432.3,870.9" fill="url(#pg)"/>
<polygon points="445.9,809.6 459.5,813.8 459.5,880.1 445.9,875.5" fill="url(#pg)"/>
<polygon points="459.5,813.8 473.1,817.9 473.1,884.7 459.5,880.1" fill="url(#pg)"/>
<polygon points="473.1,817.9 486.7,822.0 486.7,889.3 473.1,884.7" fill="url(#pg)"/>
<polygon points="486.7,822.0 500.3,826.2 500.3,894.0 486.7,889.3" fill="url(#pg)"/>
<polygon points="500.3,826.2 513.9,830.4 513.9,898.6 500.3,894.0" fill="url(#pg)"/>
<polygon points="513.9,830.4 527.5,834.5 527.5,903.2 513.9,898.6" fill="url(#pg)"/>
<polygon points="527.5,834.5 541.1,838.6 541.1,907.8 527.5,903.2" fill="url(#pg)"/>
<polygon points="541.1,838.6 554.7,842.8 554.7,912.4 541.1,907.8" fill="url(#pg)"/>
<polygon points="554.7,842.8 568.3,847.0 568.3,917.0 554.7,912.4" fill="url(#pg)"/>
<polygon points="568.3,847.0 581.9,851.1 581.9,921.6 568.3,917.0" fill="url(#pg)"/>
<line x1="432.3" y1="805.4" x2="432.3" y2="870.9" stroke="#4e5a66" stroke-width="1.3"/>
<line x1="445.9" y1="809.6" x2="445.9" y2="875.5" stroke="#4e5a66" stroke-width="1.3"/>
<line x1="459.5" y1="813.8" x2="459.5" y2="880.1" stroke="#4e5a66" stroke-width="1.3"/>
<line x1="473.1" y1="817.9" x2="473.1" y2="884.7" stroke="#4e5a66" stroke-width="1.3"/>
<line x1="486.7" y1="822.0" x2="486.7" y2="889.3" stroke="#4e5a66" stroke-width="1.3"/>
<line x1="500.3" y1="826.2" x2="500.3" y2="894.0" stroke="#4e5a66" stroke-width="1.3"/>
<line x1="513.9" y1="830.4" x2="513.9" y2="898.6" stroke="#4e5a66" stroke-width="1.3"/>
<line x1="527.5" y1="834.5" x2="527.5" y2="903.2" stroke="#4e5a66" stroke-width="1.3"/>
<line x1="541.1" y1="838.6" x2="541.1" y2="907.8" stroke="#4e5a66" stroke-width="1.3"/>
<line x1="554.7" y1="842.8" x2="554.7" y2="912.4" stroke="#4e5a66" stroke-width="1.3"/>
<line x1="568.3" y1="847.0" x2="568.3" y2="917.0" stroke="#4e5a66" stroke-width="1.3"/>
<line x1="418.7" y1="801.3" x2="581.9" y2="851.1" stroke="#3a3d44" stroke-width="1.4"/>
<line x1="418.7" y1="866.3" x2="581.9" y2="921.6" stroke="#6a7480" stroke-width="0.9"/>
<line x1="418.7" y1="801.3" x2="418.7" y2="866.3" stroke="#2a2d33" stroke-width="2"/>
<line x1="581.9" y1="851.1" x2="581.9" y2="921.6" stroke="#2a2d33" stroke-width="2"/>
<path d="M572.9,922.6 L572.9,898.6 Q572.9,894.6 576.9,894.6 L586.9,895.6 Q590.9,895.6 590.9,899.6 L590.9,926.6 M572.9,922.6 L590.9,926.6" stroke="#6e5e4e" stroke-width="1.1" fill="none"/>
<circle cx="572.9" cy="924.6" r="1.7" fill="#6a5a4c"/>
<circle cx="590.9" cy="928.6" r="1.7" fill="#6a5a4c"/>
<path d="M89.1,997.1 l0,3" stroke="#5a4c40" stroke-width="1" fill="none"/>
<circle cx="90.1" cy="1001.6" r="1.5" fill="#6a5a4c"/>
<path d="M102.4,1002.0 l0,3 l4,3" stroke="#5a4c40" stroke-width="1" fill="none"/>
<circle cx="102.4" cy="1006.5" r="1.5" fill="#6a5a4c"/>
<circle cx="106.9" cy="1009.0" r="1.5" fill="#6a5a4c"/>
<path d="M115.8,1006.9 l0,3" stroke="#5a4c40" stroke-width="1" fill="none"/>
<circle cx="116.8" cy="1011.4" r="1.5" fill="#6a5a4c"/>
<path d="M129.1,1011.9 l0,3 l4,3" stroke="#5a4c40" stroke-width="1" fill="none"/>
<circle cx="129.1" cy="1016.4" r="1.5" fill="#6a5a4c"/>
<circle cx="133.6" cy="1018.9" r="1.5" fill="#6a5a4c"/>
<path d="M142.4,1016.8 l0,3" stroke="#5a4c40" stroke-width="1" fill="none"/>
<circle cx="143.4" cy="1021.3" r="1.5" fill="#6a5a4c"/>
<path d="M155.7,1021.7 l0,3 l4,3" stroke="#5a4c40" stroke-width="1" fill="none"/>
<circle cx="155.7" cy="1026.2" r="1.5" fill="#6a5a4c"/>
<circle cx="160.2" cy="1028.7" r="1.5" fill="#6a5a4c"/>
<path d="M169.0,1026.6 l0,3" stroke="#5a4c40" stroke-width="1" fill="none"/>
<circle cx="170.0" cy="1031.1" r="1.5" fill="#6a5a4c"/>
<path d="M182.3,1031.5 l0,3 l4,3" stroke="#5a4c40" stroke-width="1" fill="none"/>
<circle cx="182.3" cy="1036.0" r="1.5" fill="#6a5a4c"/>
<circle cx="186.8" cy="1038.5" r="1.5" fill="#6a5a4c"/>
<path d="M195.7,1036.4 l0,3" stroke="#5a4c40" stroke-width="1" fill="none"/>
<circle cx="196.7" cy="1040.9" r="1.5" fill="#6a5a4c"/>
<path d="M209.0,1041.3 l0,3 l4,3" stroke="#5a4c40" stroke-width="1" fill="none"/>
<circle cx="209.0" cy="1045.8" r="1.5" fill="#6a5a4c"/>
<circle cx="213.5" cy="1048.3" r="1.5" fill="#6a5a4c"/>
<path d="M222.3,1046.2 l0,3" stroke="#5a4c40" stroke-width="1" fill="none"/>
<circle cx="223.3" cy="1050.8" r="1.5" fill="#6a5a4c"/>
<path d="M235.6,1051.2 l0,3 l4,3" stroke="#5a4c40" stroke-width="1" fill="none"/>
<circle cx="235.6" cy="1055.7" r="1.5" fill="#6a5a4c"/>
<circle cx="240.1" cy="1058.2" r="1.5" fill="#6a5a4c"/>
<path d="M248.9,1056.1 l0,3" stroke="#5a4c40" stroke-width="1" fill="none"/>
<circle cx="249.9" cy="1060.6" r="1.5" fill="#6a5a4c"/>
<path d="M262.3,1061.0 l0,3 l4,3" stroke="#5a4c40" stroke-width="1" fill="none"/>
<circle cx="262.3" cy="1065.5" r="1.5" fill="#6a5a4c"/>
<circle cx="266.8" cy="1068.0" r="1.5" fill="#6a5a4c"/>
<path d="M275.6,1065.9 l0,3" stroke="#5a4c40" stroke-width="1" fill="none"/>
<circle cx="276.6" cy="1070.4" r="1.5" fill="#6a5a4c"/>
<path d="M288.9,1070.8 l0,3 l4,3" stroke="#5a4c40" stroke-width="1" fill="none"/>
<circle cx="288.9" cy="1075.3" r="1.5" fill="#6a5a4c"/>
<circle cx="293.4" cy="1077.8" r="1.5" fill="#6a5a4c"/>
<path d="M302.2,1075.7 l0,3" stroke="#5a4c40" stroke-width="1" fill="none"/>
<circle cx="303.2" cy="1080.2" r="1.5" fill="#6a5a4c"/>
<path d="M315.5,1080.6 l0,3 l4,3" stroke="#5a4c40" stroke-width="1" fill="none"/>
<circle cx="315.5" cy="1085.1" r="1.5" fill="#6a5a4c"/>
<circle cx="320.0" cy="1087.6" r="1.5" fill="#6a5a4c"/>
<path d="M328.8,1085.6 l0,3" stroke="#5a4c40" stroke-width="1" fill="none"/>
<circle cx="329.8" cy="1090.1" r="1.5" fill="#6a5a4c"/>
<path d="M342.2,1090.5 l0,3 l4,3" stroke="#5a4c40" stroke-width="1" fill="none"/>
<circle cx="342.2" cy="1095.0" r="1.5" fill="#6a5a4c"/>
<circle cx="346.7" cy="1097.5" r="1.5" fill="#6a5a4c"/>
<path d="M355.5,1095.4 l0,3" stroke="#5a4c40" stroke-width="1" fill="none"/>
<circle cx="356.5" cy="1099.9" r="1.5" fill="#6a5a4c"/>
<polygon points="75.8,923.7 89.1,927.9 89.1,997.1 75.8,992.2" fill="url(#pg)"/>
<polygon points="89.1,927.9 102.4,932.2 102.4,1002.0 89.1,997.1" fill="url(#pg)"/>
<polygon points="102.4,932.2 115.8,936.4 115.8,1006.9 102.4,1002.0" fill="url(#pg)"/>
<polygon points="115.8,936.4 129.1,940.7 129.1,1011.9 115.8,1006.9" fill="url(#pg)"/>
<polygon points="129.1,940.7 142.4,944.9 142.4,1016.8 129.1,1011.9" fill="url(#pg)"/>
<polygon points="142.4,944.9 155.7,949.2 155.7,1021.7 142.4,1016.8" fill="url(#pg)"/>
<polygon points="155.7,949.2 169.0,953.4 169.0,1026.6 155.7,1021.7" fill="url(#pg)"/>
<polygon points="169.0,953.4 182.3,957.7 182.3,1031.5 169.0,1026.6" fill="url(#pg)"/>
<polygon points="182.3,957.7 195.7,961.9 195.7,1036.4 182.3,1031.5" fill="url(#pg)"/>
<polygon points="195.7,961.9 209.0,966.2 209.0,1041.3 195.7,1036.4" fill="url(#pg)"/>
<polygon points="209.0,966.2 222.3,970.4 222.3,1046.2 209.0,1041.3" fill="url(#pg)"/>
<polygon points="222.3,970.4 235.6,974.6 235.6,1051.2 222.3,1046.2" fill="url(#pg)"/>
<polygon points="235.6,974.6 248.9,978.9 248.9,1056.1 235.6,1051.2" fill="url(#pg)"/>
<polygon points="248.9,978.9 262.3,983.1 262.3,1061.0 248.9,1056.1" fill="url(#pg)"/>
<polygon points="262.3,983.1 275.6,987.4 275.6,1065.9 262.3,1061.0" fill="url(#pg)"/>
<polygon points="275.6,987.4 288.9,991.6 288.9,1070.8 275.6,1065.9" fill="url(#pg)"/>
<polygon points="288.9,991.6 302.2,995.9 302.2,1075.7 288.9,1070.8" fill="url(#pg)"/>
<polygon points="302.2,995.9 315.5,1000.1 315.5,1080.6 302.2,1075.7" fill="url(#pg)"/>
<polygon points="315.5,1000.1 328.8,1004.4 328.8,1085.6 315.5,1080.6" fill="url(#pg)"/>
<polygon points="328.8,1004.4 342.2,1008.6 342.2,1090.5 328.8,1085.6" fill="url(#pg)"/>
<polygon points="342.2,1008.6 355.5,1012.9 355.5,1095.4 342.2,1090.5" fill="url(#pg)"/>
<polygon points="355.5,1012.9 368.8,1017.1 368.8,1100.3 355.5,1095.4" fill="url(#pg)"/>
<line x1="89.1" y1="927.9" x2="89.1" y2="997.1" stroke="#4e5a66" stroke-width="1.3"/>
<line x1="102.4" y1="932.2" x2="102.4" y2="1002.0" stroke="#4e5a66" stroke-width="1.3"/>
<line x1="115.8" y1="936.4" x2="115.8" y2="1006.9" stroke="#4e5a66" stroke-width="1.3"/>
<line x1="129.1" y1="940.7" x2="129.1" y2="1011.9" stroke="#4e5a66" stroke-width="1.3"/>
<line x1="142.4" y1="944.9" x2="142.4" y2="1016.8" stroke="#4e5a66" stroke-width="1.3"/>
<line x1="155.7" y1="949.2" x2="155.7" y2="1021.7" stroke="#4e5a66" stroke-width="1.3"/>
<line x1="169.0" y1="953.4" x2="169.0" y2="1026.6" stroke="#4e5a66" stroke-width="1.3"/>
<line x1="182.3" y1="957.7" x2="182.3" y2="1031.5" stroke="#4e5a66" stroke-width="1.3"/>
<line x1="195.7" y1="961.9" x2="195.7" y2="1036.4" stroke="#4e5a66" stroke-width="1.3"/>
<line x1="209.0" y1="966.2" x2="209.0" y2="1041.3" stroke="#4e5a66" stroke-width="1.3"/>
<line x1="222.3" y1="970.4" x2="222.3" y2="1046.2" stroke="#4e5a66" stroke-width="1.3"/>
<line x1="235.6" y1="974.6" x2="235.6" y2="1051.2" stroke="#4e5a66" stroke-width="1.3"/>
<line x1="248.9" y1="978.9" x2="248.9" y2="1056.1" stroke="#4e5a66" stroke-width="1.3"/>
<line x1="262.3" y1="983.1" x2="262.3" y2="1061.0" stroke="#4e5a66" stroke-width="1.3"/>
<line x1="275.6" y1="987.4" x2="275.6" y2="1065.9" stroke="#4e5a66" stroke-width="1.3"/>
<line x1="288.9" y1="991.6" x2="288.9" y2="1070.8" stroke="#4e5a66" stroke-width="1.3"/>
<line x1="302.2" y1="995.9" x2="302.2" y2="1075.7" stroke="#4e5a66" stroke-width="1.3"/>
<line x1="315.5" y1="1000.1" x2="315.5" y2="1080.6" stroke="#4e5a66" stroke-width="1.3"/>
<line x1="328.8" y1="1004.4" x2="328.8" y2="1085.6" stroke="#4e5a66" stroke-width="1.3"/>
<line x1="342.2" y1="1008.6" x2="342.2" y2="1090.5" stroke="#4e5a66" stroke-width="1.3"/>
<line x1="355.5" y1="1012.9" x2="355.5" y2="1095.4" stroke="#4e5a66" stroke-width="1.3"/>
<line x1="249.2" y1="979.0" x2="249.2" y2="1056.2" stroke="#2a2e33" stroke-width="1.8"/>
<line x1="75.8" y1="923.7" x2="368.8" y2="1017.1" stroke="#3a3d44" stroke-width="1.4"/>
<line x1="75.8" y1="992.2" x2="368.8" y2="1100.3" stroke="#6a7480" stroke-width="0.9"/>
<line x1="75.8" y1="923.7" x2="75.8" y2="992.2" stroke="#2a2d33" stroke-width="2"/>
<line x1="368.8" y1="1017.1" x2="368.8" y2="1100.3" stroke="#2a2d33" stroke-width="2"/>
<path d="M66.8,993.2 L66.8,969.2 Q66.8,965.2 70.8,965.2 L80.8,966.2 Q84.8,966.2 84.8,970.2 L84.8,997.2 M66.8,993.2 L84.8,997.2" stroke="#6e5e4e" stroke-width="1.1" fill="none"/>
<circle cx="66.8" cy="995.2" r="1.7" fill="#6a5a4c"/>
<circle cx="84.8" cy="999.2" r="1.7" fill="#6a5a4c"/>
<path d="M381.6,1095.0 l0,3" stroke="#5a4c40" stroke-width="1" fill="none"/>
<circle cx="382.6" cy="1099.5" r="1.5" fill="#6a5a4c"/>
<path d="M394.5,1089.8 l0,3 l4,3" stroke="#5a4c40" stroke-width="1" fill="none"/>
<circle cx="394.5" cy="1094.3" r="1.5" fill="#6a5a4c"/>
<circle cx="399.0" cy="1096.8" r="1.5" fill="#6a5a4c"/>
<path d="M407.4,1084.5 l0,3" stroke="#5a4c40" stroke-width="1" fill="none"/>
<circle cx="408.4" cy="1089.0" r="1.5" fill="#6a5a4c"/>
<polygon points="368.8,1017.1 381.6,1012.5 381.6,1095.0 368.8,1100.3" fill="url(#pg)"/>
<polygon points="381.6,1012.5 394.5,1008.0 394.5,1089.8 381.6,1095.0" fill="url(#pg)"/>
<polygon points="394.5,1008.0 407.4,1003.5 407.4,1084.5 394.5,1089.8" fill="url(#pg)"/>
<polygon points="407.4,1003.5 420.2,998.9 420.2,1079.3 407.4,1084.5" fill="url(#pg)"/>
<line x1="381.6" y1="1012.5" x2="381.6" y2="1095.0" stroke="#4e5a66" stroke-width="1.3"/>
<line x1="394.5" y1="1008.0" x2="394.5" y2="1089.8" stroke="#4e5a66" stroke-width="1.3"/>
<line x1="407.4" y1="1003.5" x2="407.4" y2="1084.5" stroke="#4e5a66" stroke-width="1.3"/>
<line x1="368.8" y1="1017.1" x2="420.2" y2="998.9" stroke="#3a3d44" stroke-width="1.4"/>
<line x1="368.8" y1="1100.3" x2="420.2" y2="1079.3" stroke="#6a7480" stroke-width="0.9"/>
<line x1="368.8" y1="1017.1" x2="368.8" y2="1100.3" stroke="#2a2d33" stroke-width="2"/>
<line x1="420.2" y1="998.9" x2="420.2" y2="1079.3" stroke="#2a2d33" stroke-width="2"/>
<path d="M411.2,1080.3 L411.2,1056.3 Q411.2,1052.3 415.2,1052.3 L425.2,1053.3 Q429.2,1053.3 429.2,1057.3 L429.2,1084.3 M411.2,1080.3 L429.2,1084.3" stroke="#6e5e4e" stroke-width="1.1" fill="none"/>
<circle cx="411.2" cy="1082.3" r="1.7" fill="#6a5a4c"/>
<circle cx="429.2" cy="1086.3" r="1.7" fill="#6a5a4c"/>
<path d="M478.8,1016.1 l0,3" stroke="#5a4c40" stroke-width="1" fill="none"/>
<circle cx="479.8" cy="1020.6" r="1.5" fill="#6a5a4c"/>
<path d="M492.0,1020.7 l0,3 l4,3" stroke="#5a4c40" stroke-width="1" fill="none"/>
<circle cx="492.0" cy="1025.2" r="1.5" fill="#6a5a4c"/>
<circle cx="496.5" cy="1027.7" r="1.5" fill="#6a5a4c"/>
<path d="M505.3,1025.3 l0,3" stroke="#5a4c40" stroke-width="1" fill="none"/>
<circle cx="506.3" cy="1029.8" r="1.5" fill="#6a5a4c"/>
<path d="M518.6,1030.0 l0,3 l4,3" stroke="#5a4c40" stroke-width="1" fill="none"/>
<circle cx="518.6" cy="1034.5" r="1.5" fill="#6a5a4c"/>
<circle cx="523.1" cy="1037.0" r="1.5" fill="#6a5a4c"/>
<path d="M531.8,1034.6 l0,3" stroke="#5a4c40" stroke-width="1" fill="none"/>
<circle cx="532.8" cy="1039.1" r="1.5" fill="#6a5a4c"/>
<polygon points="465.5,940.5 478.8,944.6 478.8,1016.1 465.5,1011.5" fill="url(#pg)"/>
<polygon points="478.8,944.6 492.0,948.7 492.0,1020.7 478.8,1016.1" fill="url(#pg)"/>
<polygon points="492.0,948.7 505.3,952.8 505.3,1025.3 492.0,1020.7" fill="url(#pg)"/>
<polygon points="505.3,952.8 518.6,956.8 518.6,1030.0 505.3,1025.3" fill="url(#pg)"/>
<polygon points="518.6,956.8 531.8,960.9 531.8,1034.6 518.6,1030.0" fill="url(#pg)"/>
<polygon points="531.8,960.9 545.1,965.0 545.1,1039.2 531.8,1034.6" fill="url(#pg)"/>
<line x1="478.8" y1="944.6" x2="478.8" y2="1016.1" stroke="#4e5a66" stroke-width="1.3"/>
<line x1="492.0" y1="948.7" x2="492.0" y2="1020.7" stroke="#4e5a66" stroke-width="1.3"/>
<line x1="505.3" y1="952.8" x2="505.3" y2="1025.3" stroke="#4e5a66" stroke-width="1.3"/>
<line x1="518.6" y1="956.8" x2="518.6" y2="1030.0" stroke="#4e5a66" stroke-width="1.3"/>
<line x1="531.8" y1="960.9" x2="531.8" y2="1034.6" stroke="#4e5a66" stroke-width="1.3"/>
<line x1="465.5" y1="940.5" x2="545.1" y2="965.0" stroke="#3a3d44" stroke-width="1.4"/>
<line x1="465.5" y1="1011.5" x2="545.1" y2="1039.2" stroke="#6a7480" stroke-width="0.9"/>
<line x1="465.5" y1="940.5" x2="465.5" y2="1011.5" stroke="#2a2d33" stroke-width="2"/>
<path d="M456.5,1012.5 L456.5,988.5 Q456.5,984.5 460.5,984.5 L470.5,985.5 Q474.5,985.5 474.5,989.5 L474.5,1016.5 M456.5,1012.5 L474.5,1016.5" stroke="#6e5e4e" stroke-width="1.1" fill="none"/>
<circle cx="456.5" cy="1014.5" r="1.7" fill="#6a5a4c"/>
<circle cx="474.5" cy="1018.5" r="1.7" fill="#6a5a4c"/>
<path d="M559.2,1039.2 l0,3" stroke="#5a4c40" stroke-width="1" fill="none"/>
<circle cx="560.2" cy="1043.7" r="1.5" fill="#6a5a4c"/>
<path d="M573.3,1039.2 l0,3 l4,3" stroke="#5a4c40" stroke-width="1" fill="none"/>
<circle cx="573.3" cy="1043.7" r="1.5" fill="#6a5a4c"/>
<circle cx="577.8" cy="1046.2" r="1.5" fill="#6a5a4c"/>
<path d="M587.3,1039.2 l0,3" stroke="#5a4c40" stroke-width="1" fill="none"/>
<circle cx="588.3" cy="1043.7" r="1.5" fill="#6a5a4c"/>
<path d="M601.4,1039.2 l0,3 l4,3" stroke="#5a4c40" stroke-width="1" fill="none"/>
<circle cx="601.4" cy="1043.7" r="1.5" fill="#6a5a4c"/>
<circle cx="605.9" cy="1046.2" r="1.5" fill="#6a5a4c"/>
<polygon points="545.1,965.0 559.2,965.0 559.2,1039.2 545.1,1039.2" fill="url(#pg)"/>
<polygon points="559.2,965.0 573.3,965.0 573.3,1039.2 559.2,1039.2" fill="url(#pg)"/>
<polygon points="573.3,965.0 587.3,965.0 587.3,1039.2 573.3,1039.2" fill="url(#pg)"/>
<polygon points="587.3,965.0 601.4,965.0 601.4,1039.2 587.3,1039.2" fill="url(#pg)"/>
<polygon points="601.4,965.0 615.5,965.0 615.5,1039.2 601.4,1039.2" fill="url(#pg)"/>
<line x1="559.2" y1="965.0" x2="559.2" y2="1039.2" stroke="#4e5a66" stroke-width="1.3"/>
<line x1="573.3" y1="965.0" x2="573.3" y2="1039.2" stroke="#4e5a66" stroke-width="1.3"/>
<line x1="587.3" y1="965.0" x2="587.3" y2="1039.2" stroke="#4e5a66" stroke-width="1.3"/>
<line x1="601.4" y1="965.0" x2="601.4" y2="1039.2" stroke="#4e5a66" stroke-width="1.3"/>
<line x1="545.1" y1="965.0" x2="615.5" y2="965.0" stroke="#3a3d44" stroke-width="1.4"/>
<line x1="545.1" y1="1039.2" x2="615.5" y2="1039.2" stroke="#6a7480" stroke-width="0.9"/>
<path d="M628.7,1034.6 l0,3" stroke="#5a4c40" stroke-width="1" fill="none"/>
<circle cx="629.7" cy="1039.1" r="1.5" fill="#6a5a4c"/>
<path d="M641.9,1030.0 l0,3 l4,3" stroke="#5a4c40" stroke-width="1" fill="none"/>
<circle cx="641.9" cy="1034.5" r="1.5" fill="#6a5a4c"/>
<circle cx="646.4" cy="1037.0" r="1.5" fill="#6a5a4c"/>
<path d="M655.0,1025.3 l0,3" stroke="#5a4c40" stroke-width="1" fill="none"/>
<circle cx="656.0" cy="1029.8" r="1.5" fill="#6a5a4c"/>
<path d="M668.2,1020.7 l0,3 l4,3" stroke="#5a4c40" stroke-width="1" fill="none"/>
<circle cx="668.2" cy="1025.2" r="1.5" fill="#6a5a4c"/>
<circle cx="672.7" cy="1027.7" r="1.5" fill="#6a5a4c"/>
<path d="M681.4,1016.1 l0,3" stroke="#5a4c40" stroke-width="1" fill="none"/>
<circle cx="682.4" cy="1020.6" r="1.5" fill="#6a5a4c"/>
<polygon points="615.5,965.0 628.7,960.9 628.7,1034.6 615.5,1039.2" fill="url(#pg)"/>
<polygon points="628.7,960.9 641.9,956.8 641.9,1030.0 628.7,1034.6" fill="url(#pg)"/>
<polygon points="641.9,956.8 655.0,952.8 655.0,1025.3 641.9,1030.0" fill="url(#pg)"/>
<polygon points="655.0,952.8 668.2,948.7 668.2,1020.7 655.0,1025.3" fill="url(#pg)"/>
<polygon points="668.2,948.7 681.4,944.6 681.4,1016.1 668.2,1020.7" fill="url(#pg)"/>
<polygon points="681.4,944.6 694.6,940.5 694.6,1011.5 681.4,1016.1" fill="url(#pg)"/>
<line x1="628.7" y1="960.9" x2="628.7" y2="1034.6" stroke="#4e5a66" stroke-width="1.3"/>
<line x1="641.9" y1="956.8" x2="641.9" y2="1030.0" stroke="#4e5a66" stroke-width="1.3"/>
<line x1="655.0" y1="952.8" x2="655.0" y2="1025.3" stroke="#4e5a66" stroke-width="1.3"/>
<line x1="668.2" y1="948.7" x2="668.2" y2="1020.7" stroke="#4e5a66" stroke-width="1.3"/>
<line x1="681.4" y1="944.6" x2="681.4" y2="1016.1" stroke="#4e5a66" stroke-width="1.3"/>
<line x1="657.2" y1="952.1" x2="657.2" y2="1024.6" stroke="#2a2e33" stroke-width="1.8"/>
<line x1="615.5" y1="965.0" x2="694.6" y2="940.5" stroke="#3a3d44" stroke-width="1.4"/>
<line x1="615.5" y1="1039.2" x2="694.6" y2="1011.5" stroke="#6a7480" stroke-width="0.9"/>
<path d="M708.2,1011.5 l0,3" stroke="#5a4c40" stroke-width="1" fill="none"/>
<circle cx="709.2" cy="1016.0" r="1.5" fill="#6a5a4c"/>
<path d="M721.8,1011.5 l0,3 l4,3" stroke="#5a4c40" stroke-width="1" fill="none"/>
<circle cx="721.8" cy="1016.0" r="1.5" fill="#6a5a4c"/>
<circle cx="726.3" cy="1018.5" r="1.5" fill="#6a5a4c"/>
<path d="M735.4,1011.5 l0,3" stroke="#5a4c40" stroke-width="1" fill="none"/>
<circle cx="736.4" cy="1016.0" r="1.5" fill="#6a5a4c"/>
<path d="M749.0,1011.5 l0,3 l4,3" stroke="#5a4c40" stroke-width="1" fill="none"/>
<circle cx="749.0" cy="1016.0" r="1.5" fill="#6a5a4c"/>
<circle cx="753.5" cy="1018.5" r="1.5" fill="#6a5a4c"/>
<polygon points="694.6,940.5 708.2,940.5 708.2,1011.5 694.6,1011.5" fill="url(#pg)"/>
<polygon points="708.2,940.5 721.8,940.5 721.8,1011.5 708.2,1011.5" fill="url(#pg)"/>
<polygon points="721.8,940.5 735.4,940.5 735.4,1011.5 721.8,1011.5" fill="url(#pg)"/>
<polygon points="735.4,940.5 749.0,940.5 749.0,1011.5 735.4,1011.5" fill="url(#pg)"/>
<polygon points="749.0,940.5 762.6,940.5 762.6,1011.5 749.0,1011.5" fill="url(#pg)"/>
<line x1="708.2" y1="940.5" x2="708.2" y2="1011.5" stroke="#4e5a66" stroke-width="1.3"/>
<line x1="721.8" y1="940.5" x2="721.8" y2="1011.5" stroke="#4e5a66" stroke-width="1.3"/>
<line x1="735.4" y1="940.5" x2="735.4" y2="1011.5" stroke="#4e5a66" stroke-width="1.3"/>
<line x1="749.0" y1="940.5" x2="749.0" y2="1011.5" stroke="#4e5a66" stroke-width="1.3"/>
<line x1="694.6" y1="940.5" x2="762.6" y2="940.5" stroke="#3a3d44" stroke-width="1.4"/>
<line x1="694.6" y1="1011.5" x2="762.6" y2="1011.5" stroke="#6a7480" stroke-width="0.9"/>
<path d="M776.2,1015.5 l0,3" stroke="#5a4c40" stroke-width="1" fill="none"/>
<circle cx="777.2" cy="1020.0" r="1.5" fill="#6a5a4c"/>
<path d="M789.7,1019.4 l0,3 l4,3" stroke="#5a4c40" stroke-width="1" fill="none"/>
<circle cx="789.7" cy="1023.9" r="1.5" fill="#6a5a4c"/>
<circle cx="794.2" cy="1026.4" r="1.5" fill="#6a5a4c"/>
<path d="M803.3,1023.4 l0,3" stroke="#5a4c40" stroke-width="1" fill="none"/>
<circle cx="804.3" cy="1027.9" r="1.5" fill="#6a5a4c"/>
<path d="M816.8,1027.4 l0,3 l4,3" stroke="#5a4c40" stroke-width="1" fill="none"/>
<circle cx="816.8" cy="1031.9" r="1.5" fill="#6a5a4c"/>
<circle cx="821.3" cy="1034.4" r="1.5" fill="#6a5a4c"/>
<path d="M830.4,1031.3 l0,3" stroke="#5a4c40" stroke-width="1" fill="none"/>
<circle cx="831.4" cy="1035.8" r="1.5" fill="#6a5a4c"/>
<path d="M844.0,1035.3 l0,3 l4,3" stroke="#5a4c40" stroke-width="1" fill="none"/>
<circle cx="844.0" cy="1039.8" r="1.5" fill="#6a5a4c"/>
<circle cx="848.5" cy="1042.3" r="1.5" fill="#6a5a4c"/>
<path d="M857.5,1039.3 l0,3" stroke="#5a4c40" stroke-width="1" fill="none"/>
<circle cx="858.5" cy="1043.8" r="1.5" fill="#6a5a4c"/>
<path d="M871.1,1043.3 l0,3 l4,3" stroke="#5a4c40" stroke-width="1" fill="none"/>
<circle cx="871.1" cy="1047.8" r="1.5" fill="#6a5a4c"/>
<circle cx="875.6" cy="1050.3" r="1.5" fill="#6a5a4c"/>
<path d="M884.6,1047.2 l0,3" stroke="#5a4c40" stroke-width="1" fill="none"/>
<circle cx="885.6" cy="1051.7" r="1.5" fill="#6a5a4c"/>
<polygon points="762.6,940.5 776.2,944.5 776.2,1015.5 762.6,1011.5" fill="url(#pg)"/>
<polygon points="776.2,944.5 789.7,948.5 789.7,1019.4 776.2,1015.5" fill="url(#pg)"/>
<polygon points="789.7,948.5 803.3,952.4 803.3,1023.4 789.7,1019.4" fill="url(#pg)"/>
<polygon points="803.3,952.4 816.8,956.4 816.8,1027.4 803.3,1023.4" fill="url(#pg)"/>
<polygon points="816.8,956.4 830.4,960.4 830.4,1031.3 816.8,1027.4" fill="url(#pg)"/>
<polygon points="830.4,960.4 844.0,964.4 844.0,1035.3 830.4,1031.3" fill="url(#pg)"/>
<polygon points="844.0,964.4 857.5,968.4 857.5,1039.3 844.0,1035.3" fill="url(#pg)"/>
<polygon points="857.5,968.4 871.1,972.3 871.1,1043.3 857.5,1039.3" fill="url(#pg)"/>
<polygon points="871.1,972.3 884.6,976.3 884.6,1047.2 871.1,1043.3" fill="url(#pg)"/>
<polygon points="884.6,976.3 898.2,980.3 898.2,1051.2 884.6,1047.2" fill="url(#pg)"/>
<line x1="776.2" y1="944.5" x2="776.2" y2="1015.5" stroke="#4e5a66" stroke-width="1.3"/>
<line x1="789.7" y1="948.5" x2="789.7" y2="1019.4" stroke="#4e5a66" stroke-width="1.3"/>
<line x1="803.3" y1="952.4" x2="803.3" y2="1023.4" stroke="#4e5a66" stroke-width="1.3"/>
<line x1="816.8" y1="956.4" x2="816.8" y2="1027.4" stroke="#4e5a66" stroke-width="1.3"/>
<line x1="830.4" y1="960.4" x2="830.4" y2="1031.3" stroke="#4e5a66" stroke-width="1.3"/>
<line x1="844.0" y1="964.4" x2="844.0" y2="1035.3" stroke="#4e5a66" stroke-width="1.3"/>
<line x1="857.5" y1="968.4" x2="857.5" y2="1039.3" stroke="#4e5a66" stroke-width="1.3"/>
<line x1="871.1" y1="972.3" x2="871.1" y2="1043.3" stroke="#4e5a66" stroke-width="1.3"/>
<line x1="884.6" y1="976.3" x2="884.6" y2="1047.2" stroke="#4e5a66" stroke-width="1.3"/>
<line x1="845.5" y1="964.8" x2="845.5" y2="1035.8" stroke="#2a2e33" stroke-width="1.8"/>
<line x1="762.6" y1="940.5" x2="898.2" y2="980.3" stroke="#3a3d44" stroke-width="1.4"/>
<line x1="762.6" y1="1011.5" x2="898.2" y2="1051.2" stroke="#6a7480" stroke-width="0.9"/>
<line x1="898.2" y1="980.3" x2="898.2" y2="1051.2" stroke="#2a2d33" stroke-width="2"/>
<path d="M841.9,1098.5 l0,3" stroke="#5a4c40" stroke-width="1" fill="none"/>
<circle cx="842.9" cy="1103.0" r="1.5" fill="#6a5a4c"/>
<path d="M856.0,1094.5 l0,3 l4,3" stroke="#5a4c40" stroke-width="1" fill="none"/>
<circle cx="856.0" cy="1099.0" r="1.5" fill="#6a5a4c"/>
<circle cx="860.5" cy="1101.5" r="1.5" fill="#6a5a4c"/>
<path d="M870.0,1090.4 l0,3" stroke="#5a4c40" stroke-width="1" fill="none"/>
<circle cx="871.0" cy="1094.9" r="1.5" fill="#6a5a4c"/>
<path d="M884.1,1086.4 l0,3 l4,3" stroke="#5a4c40" stroke-width="1" fill="none"/>
<circle cx="884.1" cy="1090.9" r="1.5" fill="#6a5a4c"/>
<circle cx="888.6" cy="1093.4" r="1.5" fill="#6a5a4c"/>
<polygon points="827.8,1021.0 841.9,1017.0 841.9,1098.5 827.8,1102.5" fill="url(#pg)"/>
<polygon points="841.9,1017.0 856.0,1013.0 856.0,1094.5 841.9,1098.5" fill="url(#pg)"/>
<polygon points="856.0,1013.0 870.0,1008.9 870.0,1090.4 856.0,1094.5" fill="url(#pg)"/>
<polygon points="870.0,1008.9 884.1,1004.9 884.1,1086.4 870.0,1090.4" fill="url(#pg)"/>
<polygon points="884.1,1004.9 898.2,1000.9 898.2,1082.4 884.1,1086.4" fill="url(#pg)"/>
<line x1="841.9" y1="1017.0" x2="841.9" y2="1098.5" stroke="#4e5a66" stroke-width="1.3"/>
<line x1="856.0" y1="1013.0" x2="856.0" y2="1094.5" stroke="#4e5a66" stroke-width="1.3"/>
<line x1="870.0" y1="1008.9" x2="870.0" y2="1090.4" stroke="#4e5a66" stroke-width="1.3"/>
<line x1="884.1" y1="1004.9" x2="884.1" y2="1086.4" stroke="#4e5a66" stroke-width="1.3"/>
<line x1="827.8" y1="1021.0" x2="898.2" y2="1000.9" stroke="#3a3d44" stroke-width="1.4"/>
<line x1="827.8" y1="1102.5" x2="898.2" y2="1082.4" stroke="#6a7480" stroke-width="0.9"/>
<line x1="827.8" y1="1021.0" x2="827.8" y2="1102.5" stroke="#2a2d33" stroke-width="2"/>
<line x1="898.2" y1="1000.9" x2="898.2" y2="1082.4" stroke="#2a2d33" stroke-width="2"/>
<path d="M818.8,1103.5 L818.8,1079.5 Q818.8,1075.5 822.8,1075.5 L832.8,1076.5 Q836.8,1076.5 836.8,1080.5 L836.8,1107.5 M818.8,1103.5 L836.8,1107.5" stroke="#6e5e4e" stroke-width="1.1" fill="none"/>
<circle cx="818.8" cy="1105.5" r="1.7" fill="#6a5a4c"/>
<circle cx="836.8" cy="1109.5" r="1.7" fill="#6a5a4c"/>
<path d="M889.2,1083.4 L889.2,1059.4 Q889.2,1055.4 893.2,1055.4 L903.2,1056.4 Q907.2,1056.4 907.2,1060.4 L907.2,1087.4 M889.2,1083.4 L907.2,1087.4" stroke="#6e5e4e" stroke-width="1.1" fill="none"/>
<circle cx="889.2" cy="1085.4" r="1.7" fill="#6a5a4c"/>
<circle cx="907.2" cy="1089.4" r="1.7" fill="#6a5a4c"/>
<polygon points="730.8,610.5 734.7,591.3 734.7,664.9 730.8,680.7" fill="url(#pg)"/>
<polygon points="734.7,591.3 743.6,584.7 743.6,653.0 734.7,664.9" fill="url(#pg)"/>
<polygon points="743.6,584.7 753.1,577.4 753.1,647.1 743.6,653.0" fill="url(#pg)"/>
<polygon points="753.1,577.4 767.4,574.4 767.4,644.1 753.1,647.1" fill="url(#pg)"/>
<polygon points="767.4,574.4 781.6,571.9 781.6,641.1 767.4,644.1" fill="url(#pg)"/>
<polygon points="781.6,571.9 797.1,571.9 797.1,641.1 781.6,641.1" fill="url(#pg)"/>
<polygon points="797.1,571.9 812.5,571.9 812.5,641.1 797.1,641.1" fill="url(#pg)"/>
<polygon points="812.5,571.9 827.2,574.4 827.2,644.1 812.5,641.1" fill="url(#pg)"/>
<polygon points="827.2,574.4 841.6,577.4 841.6,648.1 827.2,644.1" fill="url(#pg)"/>
<polygon points="841.6,577.4 852.1,584.7 852.1,654.0 841.6,648.1" fill="url(#pg)"/>
<polygon points="852.1,584.7 863.4,591.3 863.4,662.9 852.1,654.0" fill="url(#pg)"/>
<polygon points="863.4,591.3 870.7,629.3 870.7,698.5 863.4,662.9" fill="url(#pg)"/>
<path d="M753.1,647.1 l0,3 l2,3" stroke="#5a4c40" stroke-width="1" fill="none"/><circle cx="755.1" cy="653.6" r="1.6" fill="#6a5a4c"/>
<path d="M767.4,644.1 l0,3 l2,3" stroke="#5a4c40" stroke-width="1" fill="none"/><circle cx="769.4" cy="650.6" r="1.6" fill="#6a5a4c"/>
<path d="M781.6,641.1 l0,3 l2,3" stroke="#5a4c40" stroke-width="1" fill="none"/><circle cx="783.6" cy="647.6" r="1.6" fill="#6a5a4c"/>
<path d="M797.1,641.1 l0,3 l2,3" stroke="#5a4c40" stroke-width="1" fill="none"/><circle cx="799.1" cy="647.6" r="1.6" fill="#6a5a4c"/>
<path d="M812.5,641.1 l0,3 l2,3" stroke="#5a4c40" stroke-width="1" fill="none"/><circle cx="814.5" cy="647.6" r="1.6" fill="#6a5a4c"/>
<path d="M827.2,644.1 l0,3 l2,3" stroke="#5a4c40" stroke-width="1" fill="none"/><circle cx="829.2" cy="650.6" r="1.6" fill="#6a5a4c"/>
<path d="M841.6,648.1 l0,3 l2,3" stroke="#5a4c40" stroke-width="1" fill="none"/><circle cx="843.6" cy="654.6" r="1.6" fill="#6a5a4c"/>
<path d="M852.1,654.0 l0,3 l2,3" stroke="#5a4c40" stroke-width="1" fill="none"/><circle cx="854.1" cy="660.5" r="1.6" fill="#6a5a4c"/>
<path d="M863.4,662.9 l0,3 l2,3" stroke="#5a4c40" stroke-width="1" fill="none"/><circle cx="865.4" cy="669.4" r="1.6" fill="#6a5a4c"/>
<line x1="734.7" y1="591.3" x2="734.7" y2="664.9" stroke="#56606a" stroke-width="1.1"/>
<line x1="743.6" y1="584.7" x2="743.6" y2="653.0" stroke="#56606a" stroke-width="1.1"/>
<line x1="753.1" y1="577.4" x2="753.1" y2="647.1" stroke="#56606a" stroke-width="1.1"/>
<line x1="767.4" y1="574.4" x2="767.4" y2="644.1" stroke="#56606a" stroke-width="1.1"/>
<line x1="781.6" y1="571.9" x2="781.6" y2="641.1" stroke="#56606a" stroke-width="1.1"/>
<line x1="797.1" y1="571.9" x2="797.1" y2="641.1" stroke="#56606a" stroke-width="1.1"/>
<line x1="812.5" y1="571.9" x2="812.5" y2="641.1" stroke="#56606a" stroke-width="1.1"/>
<line x1="827.2" y1="574.4" x2="827.2" y2="644.1" stroke="#56606a" stroke-width="1.1"/>
<line x1="841.6" y1="577.4" x2="841.6" y2="648.1" stroke="#56606a" stroke-width="1.1"/>
<line x1="852.1" y1="584.7" x2="852.1" y2="654.0" stroke="#56606a" stroke-width="1.1"/>
<line x1="863.4" y1="591.3" x2="863.4" y2="662.9" stroke="#56606a" stroke-width="1.1"/>
<polyline points="730.8,610.5 734.7,591.3 743.6,584.7 753.1,577.4 767.4,574.4 781.6,571.9 797.1,571.9 812.5,571.9 827.2,574.4 841.6,577.4 852.1,584.7 863.4,591.3 870.7,629.3" fill="none" stroke="#3a3d44" stroke-width="1.4"/>
<polyline points="730.8,680.7 734.7,664.9 743.6,653.0 753.1,647.1 767.4,644.1 781.6,641.1 797.1,641.1 812.5,641.1 827.2,644.1 841.6,648.1 852.1,654.0 863.4,662.9 870.7,698.5" fill="none" stroke="#6a7480" stroke-width="0.9"/>
<line x1="730.8" y1="610.5" x2="730.8" y2="680.7" stroke="#2a2d33" stroke-width="2"/>
<line x1="870.7" y1="629.3" x2="870.7" y2="698.5" stroke="#2a2d33" stroke-width="2"/>
<path d="M722,681 L722,661 Q722,657 726,657 L736,657 Q740,657 740,661 L740,681 M722,681 L740,681" stroke="#6e5e4e" stroke-width="1.1" fill="none"/>
<path d="M863,700 L863,680 Q863,676 867,676 L876,676 Q880,676 880,680 L880,700 M863,700 L880,700" stroke="#6e5e4e" stroke-width="1.1" fill="none"/>
<circle cx="722" cy="684" r="1.7" fill="#6a5a4c"/>
<circle cx="740" cy="684" r="1.7" fill="#6a5a4c"/>
<circle cx="863" cy="703" r="1.7" fill="#6a5a4c"/>
<circle cx="880" cy="703" r="1.7" fill="#6a5a4c"/>
<path d="M392,330 Q375,372 334,413" stroke="#1c1c1c" stroke-width="4.6" fill="none" stroke-linecap="round" stroke-linejoin="round"/>
<path d="M335,378 Q330,398 333,414 Q350,414 365,418" stroke="#1c1c1c" stroke-width="4.6" fill="none" stroke-linecap="round" stroke-linejoin="round"/>
<path d="M463,328 Q462,410 473,472" stroke="#1c1c1c" stroke-width="4.6" fill="none" stroke-linecap="round" stroke-linejoin="round"/>
<path d="M446,445 Q463,458 473,472 Q478,448 490,428" stroke="#1c1c1c" stroke-width="4.6" fill="none" stroke-linecap="round" stroke-linejoin="round"/>
<path d="M544,332 Q572,375 596,419" stroke="#1c1c1c" stroke-width="4.6" fill="none" stroke-linecap="round" stroke-linejoin="round"/>
<path d="M601,385 Q594,400 596,419 Q576,415 557,417" stroke="#1c1c1c" stroke-width="4.6" fill="none" stroke-linecap="round" stroke-linejoin="round"/>
<rect x="55.5" y="765" width="154.5" height="73" rx="17" ry="17" fill="url(#badge1)" stroke="#4f86c0" stroke-width="1.6"/>
<rect x="755.5" y="768" width="149" height="67.5" rx="11" ry="11" fill="#f3e6c8" stroke="#8c7c6a" stroke-width="1.2"/>
<rect x="758" y="771" width="144" height="61" rx="9" ry="9" fill="url(#badge2)"/>
<g fill="#151210"><rect x="57.50" y="1070.00" width="21.72" height="3.36"/><rect x="81.98" y="1070.00" width="6.42" height="3.36"/><rect x="91.17" y="1070.00" width="3.36" height="3.36"/><rect x="97.29" y="1070.00" width="6.42" height="3.36"/><rect x="106.47" y="1070.00" width="15.60" height="3.36"/><rect x="124.83" y="1070.00" width="6.42" height="3.36"/><rect x="137.08" y="1070.00" width="21.72" height="3.36"/><rect x="57.50" y="1073.06" width="3.36" height="3.36"/><rect x="75.86" y="1073.06" width="3.36" height="3.36"/><rect x="88.11" y="1073.06" width="3.36" height="3.36"/><rect x="94.23" y="1073.06" width="3.36" height="3.36"/><rect x="100.35" y="1073.06" width="12.54" height="3.36"/><rect x="115.65" y="1073.06" width="3.36" height="3.36"/><rect x="124.83" y="1073.06" width="3.36" height="3.36"/><rect x="130.95" y="1073.06" width="3.36" height="3.36"/><rect x="137.08" y="1073.06" width="3.36" height="3.36"/><rect x="155.44" y="1073.06" width="3.36" height="3.36"/><rect x="57.50" y="1076.12" width="3.36" height="3.36"/><rect x="63.62" y="1076.12" width="9.48" height="3.36"/><rect x="75.86" y="1076.12" width="3.36" height="3.36"/><rect x="81.98" y="1076.12" width="6.42" height="3.36"/><rect x="91.17" y="1076.12" width="6.42" height="3.36"/><rect x="100.35" y="1076.12" width="6.42" height="3.36"/><rect x="112.59" y="1076.12" width="3.36" height="3.36"/><rect x="127.89" y="1076.12" width="3.36" height="3.36"/><rect x="137.08" y="1076.12" width="3.36" height="3.36"/><rect x="143.20" y="1076.12" width="9.48" height="3.36"/><rect x="155.44" y="1076.12" width="3.36" height="3.36"/><rect x="57.50" y="1079.18" width="3.36" height="3.36"/><rect x="63.62" y="1079.18" width="9.48" height="3.36"/><rect x="75.86" y="1079.18" width="3.36" height="3.36"/><rect x="81.98" y="1079.18" width="6.42" height="3.36"/><rect x="91.17" y="1079.18" width="9.48" height="3.36"/><rect x="112.59" y="1079.18" width="3.36" height="3.36"/><rect x="124.83" y="1079.18" width="3.36" height="3.36"/><rect x="137.08" y="1079.18" width="3.36" height="3.36"/><rect x="143.20" y="1079.18" width="9.48" height="3.36"/><rect x="155.44" y="1079.18" width="3.36" height="3.36"/><rect x="57.50" y="1082.24" width="3.36" height="3.36"/><rect x="63.62" y="1082.24" width="9.48" height="3.36"/><rect x="75.86" y="1082.24" width="3.36" height="3.36"/><rect x="81.98" y="1082.24" width="3.36" height="3.36"/><rect x="88.11" y="1082.24" width="3.36" height="3.36"/><rect x="103.41" y="1082.24" width="6.42" height="3.36"/><rect x="112.59" y="1082.24" width="15.60" height="3.36"/><rect x="130.95" y="1082.24" width="3.36" height="3.36"/><rect x="137.08" y="1082.24" width="3.36" height="3.36"/><rect x="143.20" y="1082.24" width="9.48" height="3.36"/><rect x="155.44" y="1082.24" width="3.36" height="3.36"/><rect x="57.50" y="1085.30" width="3.36" height="3.36"/><rect x="75.86" y="1085.30" width="3.36" height="3.36"/><rect x="81.98" y="1085.30" width="6.42" height="3.36"/><rect x="91.17" y="1085.30" width="6.42" height="3.36"/><rect x="109.53" y="1085.30" width="9.48" height="3.36"/><rect x="124.83" y="1085.30" width="9.48" height="3.36"/><rect x="137.08" y="1085.30" width="3.36" height="3.36"/><rect x="155.44" y="1085.30" width="3.36" height="3.36"/><rect x="57.50" y="1088.36" width="21.72" height="3.36"/><rect x="81.98" y="1088.36" width="3.36" height="3.36"/><rect x="88.11" y="1088.36" width="3.36" height="3.36"/><rect x="94.23" y="1088.36" width="3.36" height="3.36"/><rect x="100.35" y="1088.36" width="3.36" height="3.36"/><rect x="106.47" y="1088.36" width="3.36" height="3.36"/><rect x="112.59" y="1088.36" width="3.36" height="3.36"/><rect x="118.71" y="1088.36" width="3.36" height="3.36"/><rect x="124.83" y="1088.36" width="3.36" height="3.36"/><rect x="130.95" y="1088.36" width="3.36" height="3.36"/><rect x="137.08" y="1088.36" width="21.72" height="3.36"/><rect x="81.98" y="1091.42" width="6.42" height="3.36"/><rect x="91.17" y="1091.42" width="12.54" height="3.36"/><rect x="121.77" y="1091.42" width="3.36" height="3.36"/><rect x="60.56" y="1094.48" width="9.48" height="3.36"/><rect x="72.80" y="1094.48" width="37.03" height="3.36"/><rect x="115.65" y="1094.48" width="15.60" height="3.36"/><rect x="137.08" y="1094.48" width="18.66" height="3.36"/><rect x="57.50" y="1097.55" width="6.42" height="3.36"/><rect x="69.74" y="1097.55" width="3.36" height="3.36"/><rect x="78.92" y="1097.55" width="3.36" height="3.36"/><rect x="94.23" y="1097.55" width="9.48" height="3.36"/><rect x="112.59" y="1097.55" width="6.42" height="3.36"/><rect x="137.08" y="1097.55" width="3.36" height="3.36"/><rect x="143.20" y="1097.55" width="15.60" height="3.36"/><rect x="63.62" y="1100.61" width="3.36" height="3.36"/><rect x="75.86" y="1100.61" width="18.66" height="3.36"/><rect x="103.41" y="1100.61" width="3.36" height="3.36"/><rect x="112.59" y="1100.61" width="3.36" height="3.36"/><rect x="127.89" y="1100.61" width="6.42" height="3.36"/><rect x="137.08" y="1100.61" width="3.36" height="3.36"/><rect x="146.26" y="1100.61" width="6.42" height="3.36"/><rect x="57.50" y="1103.67" width="9.48" height="3.36"/><rect x="72.80" y="1103.67" width="3.36" height="3.36"/><rect x="88.11" y="1103.67" width="3.36" height="3.36"/><rect x="94.23" y="1103.67" width="6.42" height="3.36"/><rect x="112.59" y="1103.67" width="3.36" height="3.36"/><rect x="121.77" y="1103.67" width="12.54" height="3.36"/><rect x="137.08" y="1103.67" width="9.48" height="3.36"/><rect x="149.32" y="1103.67" width="6.42" height="3.36"/><rect x="60.56" y="1106.73" width="3.36" height="3.36"/><rect x="75.86" y="1106.73" width="15.60" height="3.36"/><rect x="94.23" y="1106.73" width="6.42" height="3.36"/><rect x="106.47" y="1106.73" width="3.36" height="3.36"/><rect x="118.71" y="1106.73" width="3.36" height="3.36"/><rect x="124.83" y="1106.73" width="6.42" height="3.36"/><rect x="146.26" y="1106.73" width="3.36" height="3.36"/><rect x="60.56" y="1109.79" width="3.36" height="3.36"/><rect x="66.68" y="1109.79" width="3.36" height="3.36"/><rect x="85.05" y="1109.79" width="3.36" height="3.36"/><rect x="97.29" y="1109.79" width="18.66" height="3.36"/><rect x="124.83" y="1109.79" width="3.36" height="3.36"/><rect x="134.02" y="1109.79" width="3.36" height="3.36"/><rect x="143.20" y="1109.79" width="3.36" height="3.36"/><rect x="149.32" y="1109.79" width="6.42" height="3.36"/><rect x="60.56" y="1112.85" width="6.42" height="3.36"/><rect x="69.74" y="1112.85" width="12.54" height="3.36"/><rect x="85.05" y="1112.85" width="3.36" height="3.36"/><rect x="91.17" y="1112.85" width="9.48" height="3.36"/><rect x="106.47" y="1112.85" width="3.36" height="3.36"/><rect x="118.71" y="1112.85" width="9.48" height="3.36"/><rect x="130.95" y="1112.85" width="9.48" height="3.36"/><rect x="146.26" y="1112.85" width="6.42" height="3.36"/><rect x="60.56" y="1115.91" width="6.42" height="3.36"/><rect x="69.74" y="1115.91" width="6.42" height="3.36"/><rect x="88.11" y="1115.91" width="3.36" height="3.36"/><rect x="94.23" y="1115.91" width="3.36" height="3.36"/><rect x="100.35" y="1115.91" width="6.42" height="3.36"/><rect x="112.59" y="1115.91" width="6.42" height="3.36"/><rect x="121.77" y="1115.91" width="21.72" height="3.36"/><rect x="146.26" y="1115.91" width="3.36" height="3.36"/><rect x="152.38" y="1115.91" width="6.42" height="3.36"/><rect x="57.50" y="1118.97" width="9.48" height="3.36"/><rect x="72.80" y="1118.97" width="9.48" height="3.36"/><rect x="85.05" y="1118.97" width="3.36" height="3.36"/><rect x="91.17" y="1118.97" width="6.42" height="3.36"/><rect x="100.35" y="1118.97" width="3.36" height="3.36"/><rect x="112.59" y="1118.97" width="3.36" height="3.36"/><rect x="124.83" y="1118.97" width="15.60" height="3.36"/><rect x="143.20" y="1118.97" width="9.48" height="3.36"/><rect x="60.56" y="1122.03" width="15.60" height="3.36"/><rect x="78.92" y="1122.03" width="6.42" height="3.36"/><rect x="94.23" y="1122.03" width="3.36" height="3.36"/><rect x="100.35" y="1122.03" width="15.60" height="3.36"/><rect x="118.71" y="1122.03" width="3.36" height="3.36"/><rect x="124.83" y="1122.03" width="24.78" height="3.36"/><rect x="66.68" y="1125.09" width="6.42" height="3.36"/><rect x="75.86" y="1125.09" width="6.42" height="3.36"/><rect x="88.11" y="1125.09" width="3.36" height="3.36"/><rect x="106.47" y="1125.09" width="3.36" height="3.36"/><rect x="137.08" y="1125.09" width="15.60" height="3.36"/><rect x="66.68" y="1128.15" width="6.42" height="3.36"/><rect x="91.17" y="1128.15" width="3.36" height="3.36"/><rect x="97.29" y="1128.15" width="9.48" height="3.36"/><rect x="109.53" y="1128.15" width="3.36" height="3.36"/><rect x="118.71" y="1128.15" width="9.48" height="3.36"/><rect x="140.14" y="1128.15" width="9.48" height="3.36"/><rect x="152.38" y="1128.15" width="3.36" height="3.36"/><rect x="57.50" y="1131.21" width="9.48" height="3.36"/><rect x="75.86" y="1131.21" width="6.42" height="3.36"/><rect x="85.05" y="1131.21" width="9.48" height="3.36"/><rect x="97.29" y="1131.21" width="3.36" height="3.36"/><rect x="106.47" y="1131.21" width="6.42" height="3.36"/><rect x="118.71" y="1131.21" width="9.48" height="3.36"/><rect x="130.95" y="1131.21" width="3.36" height="3.36"/><rect x="137.08" y="1131.21" width="3.36" height="3.36"/><rect x="146.26" y="1131.21" width="3.36" height="3.36"/><rect x="60.56" y="1134.27" width="3.36" height="3.36"/><rect x="66.68" y="1134.27" width="9.48" height="3.36"/><rect x="78.92" y="1134.27" width="18.66" height="3.36"/><rect x="100.35" y="1134.27" width="3.36" height="3.36"/><rect x="109.53" y="1134.27" width="3.36" height="3.36"/><rect x="121.77" y="1134.27" width="9.48" height="3.36"/><rect x="137.08" y="1134.27" width="15.60" height="3.36"/><rect x="155.44" y="1134.27" width="3.36" height="3.36"/><rect x="60.56" y="1137.33" width="6.42" height="3.36"/><rect x="69.74" y="1137.33" width="9.48" height="3.36"/><rect x="103.41" y="1137.33" width="3.36" height="3.36"/><rect x="109.53" y="1137.33" width="3.36" height="3.36"/><rect x="118.71" y="1137.33" width="6.42" height="3.36"/><rect x="127.89" y="1137.33" width="12.54" height="3.36"/><rect x="146.26" y="1137.33" width="3.36" height="3.36"/><rect x="152.38" y="1137.33" width="3.36" height="3.36"/><rect x="57.50" y="1140.39" width="12.54" height="3.36"/><rect x="72.80" y="1140.39" width="3.36" height="3.36"/><rect x="78.92" y="1140.39" width="3.36" height="3.36"/><rect x="88.11" y="1140.39" width="24.78" height="3.36"/><rect x="121.77" y="1140.39" width="6.42" height="3.36"/><rect x="130.95" y="1140.39" width="12.54" height="3.36"/><rect x="146.26" y="1140.39" width="3.36" height="3.36"/><rect x="57.50" y="1143.45" width="15.60" height="3.36"/><rect x="75.86" y="1143.45" width="3.36" height="3.36"/><rect x="85.05" y="1143.45" width="6.42" height="3.36"/><rect x="97.29" y="1143.45" width="3.36" height="3.36"/><rect x="103.41" y="1143.45" width="6.42" height="3.36"/><rect x="121.77" y="1143.45" width="24.78" height="3.36"/><rect x="88.11" y="1146.52" width="3.36" height="3.36"/><rect x="94.23" y="1146.52" width="3.36" height="3.36"/><rect x="100.35" y="1146.52" width="3.36" height="3.36"/><rect x="109.53" y="1146.52" width="9.48" height="3.36"/><rect x="124.83" y="1146.52" width="9.48" height="3.36"/><rect x="143.20" y="1146.52" width="3.36" height="3.36"/><rect x="152.38" y="1146.52" width="6.42" height="3.36"/><rect x="57.50" y="1149.58" width="21.72" height="3.36"/><rect x="85.05" y="1149.58" width="9.48" height="3.36"/><rect x="103.41" y="1149.58" width="9.48" height="3.36"/><rect x="118.71" y="1149.58" width="9.48" height="3.36"/><rect x="130.95" y="1149.58" width="3.36" height="3.36"/><rect x="137.08" y="1149.58" width="3.36" height="3.36"/><rect x="143.20" y="1149.58" width="9.48" height="3.36"/><rect x="57.50" y="1152.64" width="3.36" height="3.36"/><rect x="75.86" y="1152.64" width="3.36" height="3.36"/><rect x="81.98" y="1152.64" width="12.54" height="3.36"/><rect x="97.29" y="1152.64" width="3.36" height="3.36"/><rect x="109.53" y="1152.64" width="3.36" height="3.36"/><rect x="115.65" y="1152.64" width="3.36" height="3.36"/><rect x="121.77" y="1152.64" width="6.42" height="3.36"/><rect x="130.95" y="1152.64" width="3.36" height="3.36"/><rect x="143.20" y="1152.64" width="6.42" height="3.36"/><rect x="152.38" y="1152.64" width="6.42" height="3.36"/><rect x="57.50" y="1155.70" width="3.36" height="3.36"/><rect x="63.62" y="1155.70" width="9.48" height="3.36"/><rect x="75.86" y="1155.70" width="3.36" height="3.36"/><rect x="81.98" y="1155.70" width="6.42" height="3.36"/><rect x="94.23" y="1155.70" width="9.48" height="3.36"/><rect x="106.47" y="1155.70" width="12.54" height="3.36"/><rect x="130.95" y="1155.70" width="15.60" height="3.36"/><rect x="149.32" y="1155.70" width="6.42" height="3.36"/><rect x="57.50" y="1158.76" width="3.36" height="3.36"/><rect x="63.62" y="1158.76" width="9.48" height="3.36"/><rect x="75.86" y="1158.76" width="3.36" height="3.36"/><rect x="85.05" y="1158.76" width="3.36" height="3.36"/><rect x="91.17" y="1158.76" width="21.72" height="3.36"/><rect x="115.65" y="1158.76" width="3.36" height="3.36"/><rect x="121.77" y="1158.76" width="6.42" height="3.36"/><rect x="134.02" y="1158.76" width="12.54" height="3.36"/><rect x="149.32" y="1158.76" width="6.42" height="3.36"/><rect x="57.50" y="1161.82" width="3.36" height="3.36"/><rect x="63.62" y="1161.82" width="9.48" height="3.36"/><rect x="75.86" y="1161.82" width="3.36" height="3.36"/><rect x="81.98" y="1161.82" width="6.42" height="3.36"/><rect x="94.23" y="1161.82" width="9.48" height="3.36"/><rect x="106.47" y="1161.82" width="3.36" height="3.36"/><rect x="115.65" y="1161.82" width="6.42" height="3.36"/><rect x="127.89" y="1161.82" width="3.36" height="3.36"/><rect x="134.02" y="1161.82" width="9.48" height="3.36"/><rect x="155.44" y="1161.82" width="3.36" height="3.36"/><rect x="57.50" y="1164.88" width="3.36" height="3.36"/><rect x="75.86" y="1164.88" width="3.36" height="3.36"/><rect x="81.98" y="1164.88" width="6.42" height="3.36"/><rect x="94.23" y="1164.88" width="12.54" height="3.36"/><rect x="109.53" y="1164.88" width="3.36" height="3.36"/><rect x="127.89" y="1164.88" width="9.48" height="3.36"/><rect x="140.14" y="1164.88" width="6.42" height="3.36"/><rect x="149.32" y="1164.88" width="9.48" height="3.36"/><rect x="57.50" y="1167.94" width="21.72" height="3.36"/><rect x="85.05" y="1167.94" width="3.36" height="3.36"/><rect x="97.29" y="1167.94" width="12.54" height="3.36"/><rect x="112.59" y="1167.94" width="9.48" height="3.36"/><rect x="137.08" y="1167.94" width="3.36" height="3.36"/><rect x="143.20" y="1167.94" width="3.36" height="3.36"/><rect x="149.32" y="1167.94" width="3.36" height="3.36"/><rect x="155.44" y="1167.94" width="3.36" height="3.36"/></g>
<defs><filter id="sh" x="-10%" y="-10%" width="130%" height="140%"><feGaussianBlur in="SourceAlpha" stdDeviation="1.6"/><feOffset dx="2" dy="3"/><feComponentTransfer><feFuncA type="linear" slope="0.35"/></feComponentTransfer><feMerge><feMergeNode/><feMergeNode in="SourceGraphic"/></feMerge></filter></defs>
<path d="M707,1174.4 L755,1174.4 L756.5,1180.5 L758,1174.4 L759.5,1180.5 L761,1174.4 L766,1181 L773,1174.4 L783,1181 L797,1173.8 L813.8,1181 L831,1174.4 L919,1174.4" stroke="#74508f" stroke-width="1.7" fill="none" stroke-linejoin="round"/>
<text x="190.3" y="66" style="font-size:36px;font-family:'Liberation Sans',sans-serif;font-weight:bold" fill="#242224" textLength="579.8" lengthAdjust="spacingAndGlyphs" stroke="#ffffff" stroke-width="0.3">PORTABLE, ACOUSTICAL DIVIDERS</text>
<text x="321" y="1188" style="font-size:24px;font-family:'Liberation Sans',sans-serif" fill="#2a2018" textLength="316" lengthAdjust="spacingAndGlyphs" >Screenflex.com (800-553-0110)</text>
<text x="59" y="1190.5" style="font-size:15px;font-family:'Liberation Sans',sans-serif" fill="#3b2f25" textLength="95" lengthAdjust="spacingAndGlyphs" >See Screenflex</text>
<text x="74.5" y="1207.6" style="font-size:15px;font-family:'Liberation Sans',sans-serif" fill="#3b2f25" textLength="63" lengthAdjust="spacingAndGlyphs" >in Action!</text>
<text x="79.5" y="788.8" style="font-family:'Liberation Serif',serif" fill="#2a2a2a" textLength="108" lengthAdjust="spacing"><tspan style="font-size:18px">A</tspan><tspan style="font-size:14px">COUSTICAL</tspan></text>
<text x="92.5" y="809.4" style="font-family:'Liberation Serif',serif" fill="#2a2a2a" textLength="84" lengthAdjust="spacing"><tspan style="font-size:18px">T</tspan><tspan style="font-size:14px">ACKABLE</tspan></text>
<text x="103.5" y="828.7" style="font-family:'Liberation Serif',serif" fill="#2a2a2a" textLength="61" lengthAdjust="spacing"><tspan style="font-size:18px">P</tspan><tspan style="font-size:14px">ANELS</tspan></text>
<text x="766.5" y="789.2" style="font-size:16px;font-family:'Liberation Serif',serif;font-weight:bold" fill="#f7f7f5" textLength="126" lengthAdjust="spacingAndGlyphs" >ALL PRODUCTS</text>
<text x="766.5" y="807.8" style="font-size:21.5px;font-family:'Liberation Serif',serif;font-weight:bold" fill="#f7f7f5" textLength="124" lengthAdjust="spacingAndGlyphs" >SHIP FULLY</text>
<text x="766.5" y="824.6" style="font-size:22.5px;font-family:'Liberation Serif',serif;font-weight:bold" fill="#f7f7f5" textLength="127" lengthAdjust="spacingAndGlyphs" >ASSEMBLED!</text>
<g filter="url(#sh)">
<path d="M755,1157 C753,1149 748,1146 741,1146.5 C733,1147.5 728.5,1152 729.5,1158 C730.5,1164 738,1168 743.5,1175 C749,1182 748.5,1191 741,1196.5 C734,1201 722,1201.5 716.5,1196 C711.5,1190 714,1183 721,1178.5" stroke="#3cb0e8" stroke-width="4.4" fill="none" stroke-linecap="round"/>
<path d="M733,1161 C736,1166 741,1170 744,1175 C748,1181 748,1188 744,1193" stroke="#3cb0e8" stroke-width="6.5" fill="none" stroke-linecap="round"/>
<text x="753" y="1169.5" style="font-size:38px;font-family:'Liberation Serif',serif;font-weight:bold;font-style:italic" fill="#3cb0e8" textLength="157" lengthAdjust="spacingAndGlyphs" >creenflex</text>
</g>
<text x="903" y="1153" style="font-size:6px;font-family:'Liberation Sans',sans-serif" fill="#3cb0e8">®</text>
<text x="755" y="1197.3" style="font-size:11.8px;font-family:'Liberation Sans',sans-serif;font-weight:bold" fill="#3a3636" textLength="151" lengthAdjust="spacingAndGlyphs" >PORTABLE ROOM DIVIDERS</text>
</svg>
</body></html>
